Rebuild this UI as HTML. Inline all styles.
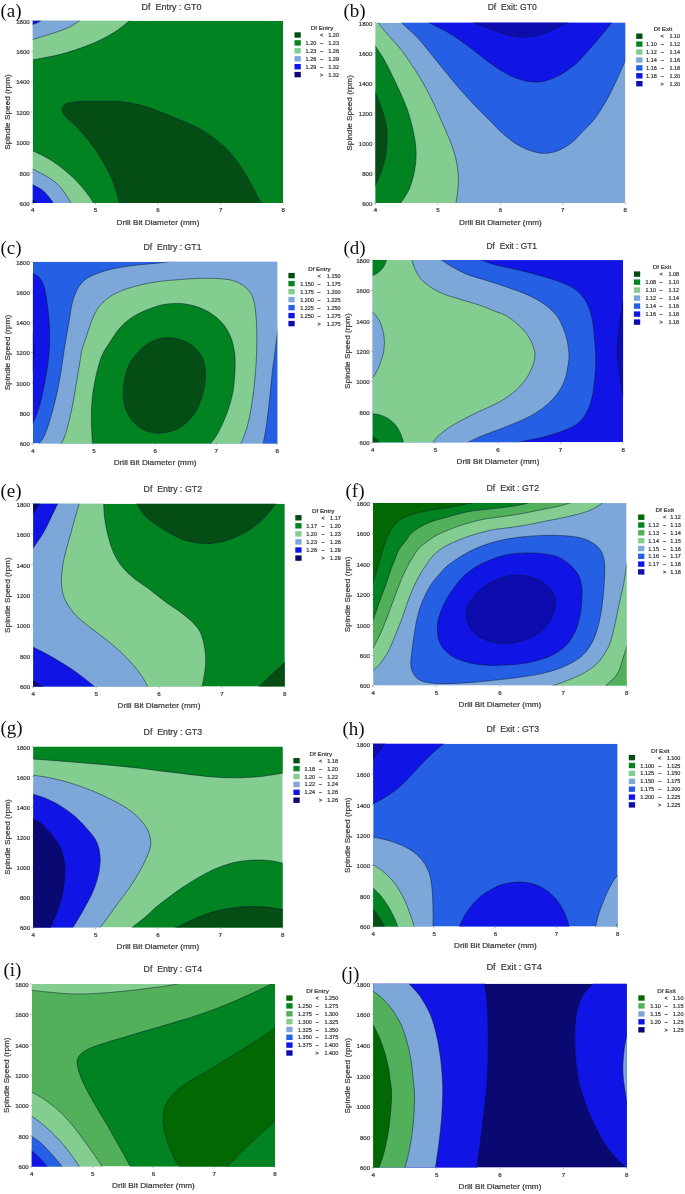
<!DOCTYPE html>
<html lang="en"><head><meta charset="utf-8"><title>Contour plots</title>
<style>html,body{margin:0;padding:0;background:#fff}svg{display:block}text{font-family:"Liberation Sans",sans-serif;fill:#3a3a3a;stroke:#3a3a3a;stroke-width:.22}.lab{font-family:"Liberation Serif",serif;fill:#111;stroke:none}.c{fill:none;stroke:#0b1630;stroke-width:.55;stroke-opacity:.9}</style></head><body>
<svg width="685" height="1194" viewBox="0 0 685 1194">
<rect width="685" height="1194" fill="#fff"/>
<clipPath id="k0"><rect x="32.8" y="20.8" width="250.4" height="182.3"/></clipPath>
<g clip-path="url(#k0)">
<rect x="32.8" y="20.8" width="250.4" height="182.3" fill="#008320"/>
<path d="M120.5 212C120.3 210.5 120.8 208.2 119.5 203.1C118.2 198 115.7 188.5 112.9 181.5C110.1 174.5 106.5 167.6 102.7 161.1C99 154.6 94.8 148.5 90.4 142.7C86 136.9 80.1 130.5 76.1 126.3C72.1 122.1 68.8 120 66.5 117.5C64.2 115 62.9 113.3 62.3 111.5C61.7 109.7 62 107.9 63 106.5C64 105.1 65.1 104 68 103.2C70.9 102.4 75.1 101.8 80.4 101.5C85.7 101.2 93.2 101.2 100 101.2C106.8 101.2 114.3 101.1 121.3 101.8C128.2 102.5 134.9 103.7 141.7 105.5C148.5 107.3 155.4 110.1 162.2 112.7C169 115.3 176.1 118.2 182.6 121C189.1 123.8 195.1 126.1 200.9 129.4C206.7 132.7 212.4 136.9 217.2 140.7C222 144.4 225.4 147.3 229.5 151.9C233.6 156.5 237.9 162.6 241.7 168.2C245.4 173.8 248.8 179.8 252 185.6C255.2 191.4 258.6 198.6 260.8 203C263 207.4 264.3 210.5 265 212Z" fill="#044d14"/>
<path class="c" d="M120.5 212C120.3 210.5 120.8 208.2 119.5 203.1C118.2 198 115.7 188.5 112.9 181.5C110.1 174.5 106.5 167.6 102.7 161.1C99 154.6 94.8 148.5 90.4 142.7C86 136.9 80.1 130.5 76.1 126.3C72.1 122.1 68.8 120 66.5 117.5C64.2 115 62.9 113.3 62.3 111.5C61.7 109.7 62 107.9 63 106.5C64 105.1 65.1 104 68 103.2C70.9 102.4 75.1 101.8 80.4 101.5C85.7 101.2 93.2 101.2 100 101.2C106.8 101.2 114.3 101.1 121.3 101.8C128.2 102.5 134.9 103.7 141.7 105.5C148.5 107.3 155.4 110.1 162.2 112.7C169 115.3 176.1 118.2 182.6 121C189.1 123.8 195.1 126.1 200.9 129.4C206.7 132.7 212.4 136.9 217.2 140.7C222 144.4 225.4 147.3 229.5 151.9C233.6 156.5 237.9 162.6 241.7 168.2C245.4 173.8 248.8 179.8 252 185.6C255.2 191.4 258.6 198.6 260.8 203C263 207.4 264.3 210.5 265 212"/>
<path d="M30.2 60.3C35.3 59.3 51 56.7 60.9 54.2C70.8 51.6 80.6 48.4 89.5 44.8C98.4 41.1 106.9 36.9 114 32.5C121.2 28.1 129.4 20.6 132.4 18.2L27.8 15.8Z" fill="#82cd8f"/>
<path class="c" d="M30.2 60.3C35.3 59.3 51 56.7 60.9 54.2C70.8 51.6 80.6 48.4 89.5 44.8C98.4 41.1 106.9 36.9 114 32.5C121.2 28.1 129.4 20.6 132.4 18.2"/>
<path d="M30.2 40.3C34 39.1 46.2 35.5 52.7 33.3C59.2 31.1 63.9 29.7 69.1 27.2C74.2 24.6 81 19.7 83.4 18.2L27.8 15.8Z" fill="#7da7d9"/>
<path class="c" d="M30.2 40.3C34 39.1 46.2 35.5 52.7 33.3C59.2 31.1 63.9 29.7 69.1 27.2C74.2 24.6 81 19.7 83.4 18.2"/>
<path d="M30.2 25.5C31.6 25 36.1 23.5 38.4 22.3C40.6 21 42.8 18.9 43.7 18.2L27.8 15.8Z" fill="#1014e4"/>
<path class="c" d="M30.2 25.5C31.6 25 36.1 23.5 38.4 22.3C40.6 21 42.8 18.9 43.7 18.2"/>
<path d="M30.2 149.4C34 151.4 45.6 156.6 52.7 161.3C59.9 166 67.4 172.2 73.1 177.6C78.9 183.1 83.7 189.2 87.5 194C91.2 198.7 94.3 204.2 95.6 206.2L27.8 208.1Z" fill="#82cd8f"/>
<path class="c" d="M30.2 149.4C34 151.4 45.6 156.6 52.7 161.3C59.9 166 67.4 172.2 73.1 177.6C78.9 183.1 83.7 189.2 87.5 194C91.2 198.7 94.3 204.2 95.6 206.2"/>
<path d="M30.2 167.8C33.3 169.4 43.5 174.3 48.6 177.6C53.7 181 56.8 183.1 60.9 187.8C65 192.6 71.1 203.2 73.1 206.2L27.8 208.1Z" fill="#7da7d9"/>
<path class="c" d="M30.2 167.8C33.3 169.4 43.5 174.3 48.6 177.6C53.7 181 56.8 183.1 60.9 187.8C65 192.6 71.1 203.2 73.1 206.2"/>
<path d="M30.2 183.3C32.6 184.8 40.3 188.1 44.5 191.9C48.8 195.7 53.7 203.9 55.6 206.2L27.8 208.1Z" fill="#1014e4"/>
<path class="c" d="M30.2 183.3C32.6 184.8 40.3 188.1 44.5 191.9C48.8 195.7 53.7 203.9 55.6 206.2"/>
<path d="M30.2 198.9C31 199.3 33.4 200.1 34.7 201.3C36 202.6 37.4 205.4 38 206.2L27.8 208.1Z" fill="#0a0872"/>
<path class="c" d="M30.2 198.9C31 199.3 33.4 200.1 34.7 201.3C36 202.6 37.4 205.4 38 206.2"/>
</g>
<path d="M32.8 203.1v1.6M95.4 203.1v1.6M158 203.1v1.6M220.6 203.1v1.6M283.2 203.1v1.6M32.8 20.8h-1.6M32.8 51.2h-1.6M32.8 81.6h-1.6M32.8 111.9h-1.6M32.8 142.3h-1.6M32.8 172.7h-1.6M32.8 203.1h-1.6" fill="none" stroke="#888" stroke-width=".6"/>
<text x="32.8" y="212.4" font-size="6.1" text-anchor="middle">4</text>
<text x="95.4" y="212.4" font-size="6.1" text-anchor="middle">5</text>
<text x="158" y="212.4" font-size="6.1" text-anchor="middle">6</text>
<text x="220.6" y="212.4" font-size="6.1" text-anchor="middle">7</text>
<text x="283.2" y="212.4" font-size="6.1" text-anchor="middle">8</text>
<text x="29.7" y="23.6" font-size="6.1" text-anchor="end">1800</text>
<text x="29.7" y="54" font-size="6.1" text-anchor="end">1600</text>
<text x="29.7" y="84.4" font-size="6.1" text-anchor="end">1400</text>
<text x="29.7" y="114.7" font-size="6.1" text-anchor="end">1200</text>
<text x="29.7" y="145.1" font-size="6.1" text-anchor="end">1000</text>
<text x="29.7" y="175.5" font-size="6.1" text-anchor="end">800</text>
<text x="29.7" y="205.9" font-size="6.1" text-anchor="end">600</text>
<text x="158" y="224.6" font-size="7.8" text-anchor="middle" textLength="82.8" lengthAdjust="spacingAndGlyphs">Drill Bit Diameter (mm)</text>
<text transform="translate(9.7 112) rotate(-90)" font-size="7.8" text-anchor="middle" textLength="75.6" lengthAdjust="spacingAndGlyphs">Spindle Speed (rpm)</text>
<text x="171.6" y="10" font-size="8.8" text-anchor="middle" textLength="60" lengthAdjust="spacingAndGlyphs" style="white-space:pre">Df  Entry : GT0</text>
<text class="lab" x="0.5" y="17" font-size="19">(a)</text>
<text x="322" y="29.9" font-size="5.8" text-anchor="middle" textLength="22.5" lengthAdjust="spacingAndGlyphs">Df Entry</text>
<rect x="294.5" y="32.3" width="6.3" height="5.4" fill="#044d14"/>
<text x="321.5" y="37" font-size="5.5" text-anchor="middle">&lt;</text>
<text x="339" y="37" font-size="5.5" text-anchor="end">1.20</text>
<rect x="294.5" y="40.2" width="6.3" height="5.4" fill="#008320"/>
<text x="321.5" y="44.9" font-size="5.5" text-anchor="middle">–</text>
<text x="316.3" y="44.9" font-size="5.5" text-anchor="end">1.20</text>
<text x="339" y="44.9" font-size="5.5" text-anchor="end">1.23</text>
<rect x="294.5" y="48.1" width="6.3" height="5.4" fill="#82cd8f"/>
<text x="321.5" y="52.8" font-size="5.5" text-anchor="middle">–</text>
<text x="316.3" y="52.8" font-size="5.5" text-anchor="end">1.23</text>
<text x="339" y="52.8" font-size="5.5" text-anchor="end">1.26</text>
<rect x="294.5" y="56.1" width="6.3" height="5.4" fill="#7da7d9"/>
<text x="321.5" y="60.8" font-size="5.5" text-anchor="middle">–</text>
<text x="316.3" y="60.8" font-size="5.5" text-anchor="end">1.26</text>
<text x="339" y="60.8" font-size="5.5" text-anchor="end">1.29</text>
<rect x="294.5" y="64" width="6.3" height="5.4" fill="#1014e4"/>
<text x="321.5" y="68.7" font-size="5.5" text-anchor="middle">–</text>
<text x="316.3" y="68.7" font-size="5.5" text-anchor="end">1.29</text>
<text x="339" y="68.7" font-size="5.5" text-anchor="end">1.32</text>
<rect x="294.5" y="71.9" width="6.3" height="5.4" fill="#0a0872"/>
<text x="321.5" y="76.6" font-size="5.5" text-anchor="middle">&gt;</text>
<text x="339" y="76.6" font-size="5.5" text-anchor="end">1.32</text>
<clipPath id="k1"><rect x="375.5" y="22.7" width="249.8" height="180.4"/></clipPath>
<g clip-path="url(#k1)">
<rect x="375.5" y="22.7" width="249.8" height="180.4" fill="#7da7d9"/>
<path d="M372 14C373 15.5 375.5 19.2 378.2 22.8C380.9 26.4 384.3 30.6 388.4 35.4C392.5 40.2 397.6 45 402.7 51.8C407.8 58.6 414.3 68.5 419.1 76.3C423.9 84.1 427.8 91.5 431.4 98.8C435 106.1 437.8 112.7 441 120C444.2 127.3 448.3 136.2 450.8 142.7C453.3 149.2 454.6 153.6 455.9 159C457.1 164.4 458 170.3 458.3 175.4C458.6 180.5 458.3 185.1 457.9 189.7C457.5 194.3 456.5 199.3 455.9 203C455.2 206.7 454.3 210.5 454 212L370.5 208.1L370.5 17.7Z" fill="#82cd8f"/>
<path class="c" d="M372 14C373 15.5 375.5 19.2 378.2 22.8C380.9 26.4 384.3 30.6 388.4 35.4C392.5 40.2 397.6 45 402.7 51.8C407.8 58.6 414.3 68.5 419.1 76.3C423.9 84.1 427.8 91.5 431.4 98.8C435 106.1 437.8 112.7 441 120C444.2 127.3 448.3 136.2 450.8 142.7C453.3 149.2 454.6 153.6 455.9 159C457.1 164.4 458 170.3 458.3 175.4C458.6 180.5 458.3 185.1 457.9 189.7C457.5 194.3 456.5 199.3 455.9 203C455.2 206.7 454.3 210.5 454 212"/>
<path d="M370 38C371 39.5 373.4 43 375.8 46.7C378.2 50.4 381.2 54.4 384.3 60C387.4 65.6 391.2 73.2 394.6 80.4C398 87.6 402.2 96.3 404.8 102.9C407.4 109.5 408.8 113.7 410.5 120C412.2 126.3 414.1 134.5 415 140.7C415.9 146.9 416.2 151.6 416 157C415.8 162.4 415.2 168 414 173.4C412.8 178.8 411.1 184.8 408.9 189.7C406.7 194.6 403.2 199.3 400.7 203C398.2 206.7 395.1 210.5 394 212L370.5 208.1Z" fill="#008320"/>
<path class="c" d="M370 38C371 39.5 373.4 43 375.8 46.7C378.2 50.4 381.2 54.4 384.3 60C387.4 65.6 391.2 73.2 394.6 80.4C398 87.6 402.2 96.3 404.8 102.9C407.4 109.5 408.8 113.7 410.5 120C412.2 126.3 414.1 134.5 415 140.7C415.9 146.9 416.2 151.6 416 157C415.8 162.4 415.2 168 414 173.4C412.8 178.8 411.1 184.8 408.9 189.7C406.7 194.6 403.2 199.3 400.7 203C398.2 206.7 395.1 210.5 394 212"/>
<path d="M373 85C373.5 86.5 374.6 90.4 375.8 93.7C377 97 378.9 101 380.3 104.9C381.7 108.8 383.2 113.2 384.3 117C385.4 120.8 386.2 124 386.6 128C387.1 131.9 387.2 135.9 387 140.7C386.8 145.5 386.3 151.9 385.4 157C384.4 162.1 382.9 166.7 381.3 171.3C379.7 175.9 377.4 181.2 375.8 184.6C374.2 188 372.6 190.8 372 192Z" fill="#044d14"/>
<path class="c" d="M373 85C373.5 86.5 374.6 90.4 375.8 93.7C377 97 378.9 101 380.3 104.9C381.7 108.8 383.2 113.2 384.3 117C385.4 120.8 386.2 124 386.6 128C387.1 131.9 387.2 135.9 387 140.7C386.8 145.5 386.3 151.9 385.4 157C384.4 162.1 382.9 166.7 381.3 171.3C379.7 175.9 377.4 181.2 375.8 184.6C374.2 188 372.6 190.8 372 192"/>
<path d="M394 14C395.3 15.5 397.5 18.6 401.7 22.8C405.9 27.1 413.1 33 419.1 39.5C425.1 46 431.4 54.5 437.5 62C443.6 69.5 449.8 77.3 455.9 84.5C462 91.7 468.7 99 474.3 104.9C479.9 110.9 485.1 115.8 489.5 120.2C493.9 124.6 496.4 127.8 500.5 131.5C504.6 135.2 509.6 139.6 514.3 142.7C519 145.8 523.8 148.1 528.6 149.9C533.4 151.7 538.1 153.1 542.9 153.3C547.7 153.5 552.4 152.7 557.2 150.9C562 149.1 567.1 146.1 571.5 142.7C575.9 139.3 580 134.3 583.8 130.4C587.6 126.5 590.8 123.9 594.5 119C598.2 114.1 602.6 107.2 606.3 100.8C610 94.4 613.4 87 616.5 80.4C619.6 73.8 622.9 65.9 625.1 61C627.3 56.1 628.8 52.7 629.5 51L630.3 17.7Z" fill="#245fe4"/>
<path class="c" d="M394 14C395.3 15.5 397.5 18.6 401.7 22.8C405.9 27.1 413.1 33 419.1 39.5C425.1 46 431.4 54.5 437.5 62C443.6 69.5 449.8 77.3 455.9 84.5C462 91.7 468.7 99 474.3 104.9C479.9 110.9 485.1 115.8 489.5 120.2C493.9 124.6 496.4 127.8 500.5 131.5C504.6 135.2 509.6 139.6 514.3 142.7C519 145.8 523.8 148.1 528.6 149.9C533.4 151.7 538.1 153.1 542.9 153.3C547.7 153.5 552.4 152.7 557.2 150.9C562 149.1 567.1 146.1 571.5 142.7C575.9 139.3 580 134.3 583.8 130.4C587.6 126.5 590.8 123.9 594.5 119C598.2 114.1 602.6 107.2 606.3 100.8C610 94.4 613.4 87 616.5 80.4C619.6 73.8 622.9 65.9 625.1 61C627.3 56.1 628.8 52.7 629.5 51"/>
<path d="M420 16C421.6 17.1 424.4 19.9 429.3 22.8C434.2 25.7 442.9 29.2 449.7 33.4C456.5 37.5 463.4 42.7 470.2 47.7C477 52.7 485.3 59.6 490.6 63.5C495.9 67.4 498.1 68.7 502 71C505.9 73.3 509.9 75.8 514.3 77.5C518.7 79.2 523.8 80.8 528.6 81.5C533.4 82.2 537.8 82.4 542.9 81.4C548 80.4 553.8 78.2 559.3 75.3C564.8 72.4 570.5 68.4 575.6 64C580.7 59.6 585.5 53.6 589.9 48.7C594.3 43.8 598.6 38.7 602.2 34.4C605.8 30.1 609.1 25.9 611.4 22.8C613.7 19.7 615.2 17.1 616 16Z" fill="#1014e4"/>
<path class="c" d="M420 16C421.6 17.1 424.4 19.9 429.3 22.8C434.2 25.7 442.9 29.2 449.7 33.4C456.5 37.5 463.4 42.7 470.2 47.7C477 52.7 485.3 59.6 490.6 63.5C495.9 67.4 498.1 68.7 502 71C505.9 73.3 509.9 75.8 514.3 77.5C518.7 79.2 523.8 80.8 528.6 81.5C533.4 82.2 537.8 82.4 542.9 81.4C548 80.4 553.8 78.2 559.3 75.3C564.8 72.4 570.5 68.4 575.6 64C580.7 59.6 585.5 53.6 589.9 48.7C594.3 43.8 598.6 38.7 602.2 34.4C605.8 30.1 609.1 25.9 611.4 22.8C613.7 19.7 615.2 17.1 616 16"/>
<path d="M462 16C464.1 17.1 469.5 20.6 474.3 22.8C479.1 25 486.3 27.7 490.6 29.3C494.9 30.9 496.7 31.4 500 32.4C503.3 33.4 506.4 34.6 510.2 35.4C514 36.2 518.1 37.1 522.5 37.1C526.9 37.1 532 36.5 536.8 35.4C541.6 34.3 546 32.4 551.1 30.3C556.2 28.2 562.9 25 567.4 22.8C571.9 20.6 576.2 18 578 17Z" fill="#0e0cac"/>
<path class="c" d="M462 16C464.1 17.1 469.5 20.6 474.3 22.8C479.1 25 486.3 27.7 490.6 29.3C494.9 30.9 496.7 31.4 500 32.4C503.3 33.4 506.4 34.6 510.2 35.4C514 36.2 518.1 37.1 522.5 37.1C526.9 37.1 532 36.5 536.8 35.4C541.6 34.3 546 32.4 551.1 30.3C556.2 28.2 562.9 25 567.4 22.8C571.9 20.6 576.2 18 578 17"/>
</g>
<path d="M375.5 203.1v1.6M437.9 203.1v1.6M500.4 203.1v1.6M562.8 203.1v1.6M625.3 203.1v1.6M375.5 22.7h-1.6M375.5 52.8h-1.6M375.5 82.8h-1.6M375.5 112.9h-1.6M375.5 143h-1.6M375.5 173h-1.6M375.5 203.1h-1.6" fill="none" stroke="#888" stroke-width=".6"/>
<text x="375.5" y="212.4" font-size="6.1" text-anchor="middle">4</text>
<text x="437.9" y="212.4" font-size="6.1" text-anchor="middle">5</text>
<text x="500.4" y="212.4" font-size="6.1" text-anchor="middle">6</text>
<text x="562.8" y="212.4" font-size="6.1" text-anchor="middle">7</text>
<text x="625.3" y="212.4" font-size="6.1" text-anchor="middle">8</text>
<text x="372.4" y="25.5" font-size="6.1" text-anchor="end">1800</text>
<text x="372.4" y="55.6" font-size="6.1" text-anchor="end">1600</text>
<text x="372.4" y="85.6" font-size="6.1" text-anchor="end">1400</text>
<text x="372.4" y="115.7" font-size="6.1" text-anchor="end">1200</text>
<text x="372.4" y="145.8" font-size="6.1" text-anchor="end">1000</text>
<text x="372.4" y="175.8" font-size="6.1" text-anchor="end">800</text>
<text x="372.4" y="205.9" font-size="6.1" text-anchor="end">600</text>
<text x="500.4" y="224.6" font-size="7.8" text-anchor="middle" textLength="82.8" lengthAdjust="spacingAndGlyphs">Drill Bit Diameter (mm)</text>
<text transform="translate(352.4 112.9) rotate(-90)" font-size="7.8" text-anchor="middle" textLength="75.6" lengthAdjust="spacingAndGlyphs">Spindle Speed (rpm)</text>
<text x="512.2" y="10" font-size="8.8" text-anchor="middle" textLength="49" lengthAdjust="spacingAndGlyphs" style="white-space:pre">Df  Exit: GT0</text>
<text class="lab" x="343.5" y="17" font-size="19">(b)</text>
<text x="663" y="31.1" font-size="5.8" text-anchor="middle" textLength="18.5" lengthAdjust="spacingAndGlyphs">Df Exit</text>
<rect x="636.2" y="33.5" width="6.3" height="5.4" fill="#044d14"/>
<text x="662.2" y="38.2" font-size="5.5" text-anchor="middle">&lt;</text>
<text x="680.1" y="38.2" font-size="5.5" text-anchor="end">1.10</text>
<rect x="636.2" y="41.4" width="6.3" height="5.4" fill="#008320"/>
<text x="662.2" y="46.1" font-size="5.5" text-anchor="middle">–</text>
<text x="656.8" y="46.1" font-size="5.5" text-anchor="end">1.10</text>
<text x="680.1" y="46.1" font-size="5.5" text-anchor="end">1.12</text>
<rect x="636.2" y="49.3" width="6.3" height="5.4" fill="#82cd8f"/>
<text x="662.2" y="54" font-size="5.5" text-anchor="middle">–</text>
<text x="656.8" y="54" font-size="5.5" text-anchor="end">1.12</text>
<text x="680.1" y="54" font-size="5.5" text-anchor="end">1.14</text>
<rect x="636.2" y="57.3" width="6.3" height="5.4" fill="#7da7d9"/>
<text x="662.2" y="62" font-size="5.5" text-anchor="middle">–</text>
<text x="656.8" y="62" font-size="5.5" text-anchor="end">1.14</text>
<text x="680.1" y="62" font-size="5.5" text-anchor="end">1.16</text>
<rect x="636.2" y="65.2" width="6.3" height="5.4" fill="#245fe4"/>
<text x="662.2" y="69.9" font-size="5.5" text-anchor="middle">–</text>
<text x="656.8" y="69.9" font-size="5.5" text-anchor="end">1.16</text>
<text x="680.1" y="69.9" font-size="5.5" text-anchor="end">1.18</text>
<rect x="636.2" y="73.1" width="6.3" height="5.4" fill="#1014e4"/>
<text x="662.2" y="77.8" font-size="5.5" text-anchor="middle">–</text>
<text x="656.8" y="77.8" font-size="5.5" text-anchor="end">1.18</text>
<text x="680.1" y="77.8" font-size="5.5" text-anchor="end">1.20</text>
<rect x="636.2" y="81" width="6.3" height="5.4" fill="#0e0cac"/>
<text x="662.2" y="85.7" font-size="5.5" text-anchor="middle">&gt;</text>
<text x="680.1" y="85.7" font-size="5.5" text-anchor="end">1.20</text>
<clipPath id="k2"><rect x="32.9" y="261.7" width="244.4" height="181.7"/></clipPath>
<g clip-path="url(#k2)">
<rect x="32.9" y="261.7" width="244.4" height="181.7" fill="#245fe4"/>
<path d="M30 271.5C30.5 271.8 31.2 272.4 32.8 273.4C34.3 274.4 37.4 275.1 39.3 277.5C41.2 279.9 43 282.9 44.4 287.7C45.8 292.5 46.6 299.6 47.5 306.1C48.4 312.6 49.2 319.7 49.5 326.5C49.8 333.3 49.8 340.4 49.5 347C49.2 353.6 48.4 360 47.5 366.3C46.6 372.6 45.6 378.6 44.4 384.7C43.2 390.8 41.7 398 40.3 403.1C38.9 408.2 37.5 412 36.2 415.4C35 418.8 33.8 421.3 32.8 423.6C31.8 425.9 30.5 428.1 30 429Z" fill="#1014e4"/>
<path class="c" d="M30 271.5C30.5 271.8 31.2 272.4 32.8 273.4C34.3 274.4 37.4 275.1 39.3 277.5C41.2 279.9 43 282.9 44.4 287.7C45.8 292.5 46.6 299.6 47.5 306.1C48.4 312.6 49.2 319.7 49.5 326.5C49.8 333.3 49.8 340.4 49.5 347C49.2 353.6 48.4 360 47.5 366.3C46.6 372.6 45.6 378.6 44.4 384.7C43.2 390.8 41.7 398 40.3 403.1C38.9 408.2 37.5 412 36.2 415.4C35 418.8 33.8 421.3 32.8 423.6C31.8 425.9 30.5 428.1 30 429"/>
<path d="M32 332C32.4 335.3 34.4 345 34.4 352C34.4 359 32.4 370.3 32 374Z" fill="#0e0cac"/>
<path class="c" d="M32 332C32.4 335.3 34.4 345 34.4 352C34.4 359 32.4 370.3 32 374"/>
<path d="M35 449C35.7 448.1 37.7 445.6 39.3 443.4C40.9 441.2 42.7 439.4 44.4 435.8C46.1 432.2 47.8 426.9 49.5 421.5C51.2 416.1 53.1 409.2 54.6 403.1C56.1 397 57.5 390.8 58.7 384.7C59.9 378.6 60.8 372.4 61.8 366.3C62.8 360.2 63.7 353.1 64.5 348C65.3 342.9 65.8 340.3 66.5 336C67.2 331.7 68 327.7 68.9 322.4C69.8 317.1 70.8 309.1 72 304C73.2 298.9 74.6 295.2 76.1 291.8C77.6 288.4 79.2 286 81.2 283.6C83.2 281.2 85.5 279.3 88.4 277.5C91.3 275.7 94.9 274.4 98.6 273C102.3 271.6 106.4 270.4 110.8 269.3C115.2 268.2 120.3 267.4 125.1 266.6C129.9 265.9 134.4 265.3 139.4 264.8C144.4 264.3 150 263.9 155 263.4C160 262.9 165.1 262.2 169.3 261.7C173.5 261.2 178.2 260.6 180 260.4L282.3 256.7L282.3 448.4Z" fill="#7da7d9"/>
<path class="c" d="M35 449C35.7 448.1 37.7 445.6 39.3 443.4C40.9 441.2 42.7 439.4 44.4 435.8C46.1 432.2 47.8 426.9 49.5 421.5C51.2 416.1 53.1 409.2 54.6 403.1C56.1 397 57.5 390.8 58.7 384.7C59.9 378.6 60.8 372.4 61.8 366.3C62.8 360.2 63.7 353.1 64.5 348C65.3 342.9 65.8 340.3 66.5 336C67.2 331.7 68 327.7 68.9 322.4C69.8 317.1 70.8 309.1 72 304C73.2 298.9 74.6 295.2 76.1 291.8C77.6 288.4 79.2 286 81.2 283.6C83.2 281.2 85.5 279.3 88.4 277.5C91.3 275.7 94.9 274.4 98.6 273C102.3 271.6 106.4 270.4 110.8 269.3C115.2 268.2 120.3 267.4 125.1 266.6C129.9 265.9 134.4 265.3 139.4 264.8C144.4 264.3 150 263.9 155 263.4C160 262.9 165.1 262.2 169.3 261.7C173.5 261.2 178.2 260.6 180 260.4"/>
<path d="M279 322C278.7 324.1 277.8 330.5 277.2 334.7C276.6 338.9 276.1 342.8 275.6 347C275.1 351.2 274.5 356.1 274 360C273.5 363.9 273.3 363.5 272.5 370.4C271.7 377.2 270.4 391.9 269.4 401.1C268.4 410.3 267.4 418.6 266.4 425.6C265.4 432.7 264 439 263.3 443.4C262.6 447.8 262.2 450.6 262 452L282.3 448.4Z" fill="#245fe4"/>
<path class="c" d="M279 322C278.7 324.1 277.8 330.5 277.2 334.7C276.6 338.9 276.1 342.8 275.6 347C275.1 351.2 274.5 356.1 274 360C273.5 363.9 273.3 363.5 272.5 370.4C271.7 377.2 270.4 391.9 269.4 401.1C268.4 410.3 267.4 418.6 266.4 425.6C265.4 432.7 264 439 263.3 443.4C262.6 447.8 262.2 450.6 262 452"/>
<path d="M58 449C58.6 448.1 60.2 445.6 61.4 443.4C62.5 441.2 63.7 439.4 64.9 435.8C66.2 432.2 67.6 426.9 68.9 421.5C70.2 416.1 71.8 409.2 73 403.1C74.2 397 75.1 390.8 76.1 384.7C77.1 378.6 78.3 371.8 79.2 366.3C80.1 360.9 80.8 355.7 81.5 352C82.2 348.3 82.9 346.5 83.7 344C84.5 341.5 85.2 340.1 86.3 336.8C87.4 333.6 89 328.2 90.4 324.5C91.8 320.8 93 317.4 94.5 314.3C96 311.2 97.5 308.7 99.6 306.1C101.6 303.5 104.1 301 106.8 298.9C109.5 296.8 112.5 294.9 115.9 293.2C119.3 291.5 123.3 290 127.2 288.7C131.1 287.4 135.3 286.2 139.4 285.2C143.5 284.2 147.4 283.3 151.7 282.6C156 281.9 161.1 281.2 165 280.8C168.9 280.4 170.2 280.3 175.4 279.9C180.6 279.5 189.1 278.7 195.9 278.5C202.7 278.3 210.2 278.2 216.3 278.5C222.4 278.8 227.9 279.1 232.7 280.5C237.5 281.9 241.7 284.1 244.9 286.7C248.1 289.3 250.4 292.3 252.1 295.9C253.8 299.5 254.3 303.3 255.1 308.1C255.8 312.9 256.3 319.1 256.6 324.5C256.9 329.9 256.8 335.7 256.8 340.8C256.8 345.9 256.7 350.1 256.5 355C256.3 359.9 256.2 363.7 255.6 370.4C255 377.1 254.2 386.8 253.1 395C252 403.2 250.4 413 249 419.5C247.6 426 246.3 429.8 244.9 433.8C243.5 437.8 242 440.7 240.8 443.4C239.7 446.1 238.5 448.9 238 450Z" fill="#82cd8f"/>
<path class="c" d="M58 449C58.6 448.1 60.2 445.6 61.4 443.4C62.5 441.2 63.7 439.4 64.9 435.8C66.2 432.2 67.6 426.9 68.9 421.5C70.2 416.1 71.8 409.2 73 403.1C74.2 397 75.1 390.8 76.1 384.7C77.1 378.6 78.3 371.8 79.2 366.3C80.1 360.9 80.8 355.7 81.5 352C82.2 348.3 82.9 346.5 83.7 344C84.5 341.5 85.2 340.1 86.3 336.8C87.4 333.6 89 328.2 90.4 324.5C91.8 320.8 93 317.4 94.5 314.3C96 311.2 97.5 308.7 99.6 306.1C101.6 303.5 104.1 301 106.8 298.9C109.5 296.8 112.5 294.9 115.9 293.2C119.3 291.5 123.3 290 127.2 288.7C131.1 287.4 135.3 286.2 139.4 285.2C143.5 284.2 147.4 283.3 151.7 282.6C156 281.9 161.1 281.2 165 280.8C168.9 280.4 170.2 280.3 175.4 279.9C180.6 279.5 189.1 278.7 195.9 278.5C202.7 278.3 210.2 278.2 216.3 278.5C222.4 278.8 227.9 279.1 232.7 280.5C237.5 281.9 241.7 284.1 244.9 286.7C248.1 289.3 250.4 292.3 252.1 295.9C253.8 299.5 254.3 303.3 255.1 308.1C255.8 312.9 256.3 319.1 256.6 324.5C256.9 329.9 256.8 335.7 256.8 340.8C256.8 345.9 256.7 350.1 256.5 355C256.3 359.9 256.2 363.7 255.6 370.4C255 377.1 254.2 386.8 253.1 395C252 403.2 250.4 413 249 419.5C247.6 426 246.3 429.8 244.9 433.8C243.5 437.8 242 440.7 240.8 443.4C239.7 446.1 238.5 448.9 238 450"/>
<path d="M92.6 450C92.6 448.9 92.5 446.4 92.4 443.4C92.3 440.4 92 436.5 91.8 431.8C91.6 427.1 91.3 421.2 91.4 415.4C91.5 409.6 91.7 403.1 92.4 397C93.1 390.9 94.3 384.4 95.5 378.6C96.7 372.8 98.2 366.7 99.6 362.3C101 357.9 101.8 355.6 103.7 352C105.6 348.4 108.6 344.2 110.8 340.8C113 337.4 115 334.3 117 331.6C119 328.9 120.7 326.8 123.1 324.5C125.5 322.2 128.6 319.8 131.3 317.9C134 316 136 314.8 139.4 313.2C142.8 311.6 147.4 309.6 151.7 308.1C156 306.6 160 305.1 165 304.3C170 303.6 176.1 303.1 181.6 303.6C187.1 304.1 192.8 305.3 197.9 307.1C203 308.9 207.9 311.4 212.2 314.3C216.5 317.2 220.4 320.8 223.5 324.5C226.6 328.2 228.9 332.7 230.6 336.8C232.3 340.9 233.1 344.8 233.9 349C234.7 353.2 235.2 355.7 235.2 362C235.2 368.3 234.6 379.6 233.7 386.8C232.8 394 231.3 399.4 229.6 405.2C227.9 411 225.7 416.4 223.5 421.5C221.3 426.6 218.5 432.2 216.3 435.8C214.2 439.4 212.5 440.9 210.6 443.4C208.7 445.9 205.9 449.7 205 451Z" fill="#008320"/>
<path class="c" d="M92.6 450C92.6 448.9 92.5 446.4 92.4 443.4C92.3 440.4 92 436.5 91.8 431.8C91.6 427.1 91.3 421.2 91.4 415.4C91.5 409.6 91.7 403.1 92.4 397C93.1 390.9 94.3 384.4 95.5 378.6C96.7 372.8 98.2 366.7 99.6 362.3C101 357.9 101.8 355.6 103.7 352C105.6 348.4 108.6 344.2 110.8 340.8C113 337.4 115 334.3 117 331.6C119 328.9 120.7 326.8 123.1 324.5C125.5 322.2 128.6 319.8 131.3 317.9C134 316 136 314.8 139.4 313.2C142.8 311.6 147.4 309.6 151.7 308.1C156 306.6 160 305.1 165 304.3C170 303.6 176.1 303.1 181.6 303.6C187.1 304.1 192.8 305.3 197.9 307.1C203 308.9 207.9 311.4 212.2 314.3C216.5 317.2 220.4 320.8 223.5 324.5C226.6 328.2 228.9 332.7 230.6 336.8C232.3 340.9 233.1 344.8 233.9 349C234.7 353.2 235.2 355.7 235.2 362C235.2 368.3 234.6 379.6 233.7 386.8C232.8 394 231.3 399.4 229.6 405.2C227.9 411 225.7 416.4 223.5 421.5C221.3 426.6 218.5 432.2 216.3 435.8C214.2 439.4 212.5 440.9 210.6 443.4C208.7 445.9 205.9 449.7 205 451"/>
<path d="M165 337.8C168.6 337.6 173.4 337.8 177.5 338.8C181.6 339.8 186.3 341.8 189.7 343.9C193.1 345.9 195.6 348.2 197.9 351.1C200.2 354 202.2 356.8 203.5 361C204.8 365.2 205.6 371.3 205.5 376.6C205.4 381.9 204.4 387.4 203 392.9C201.6 398.3 199.5 404.5 196.9 409.3C194.3 414.1 191.3 418.1 187.7 421.5C184.1 424.9 179.5 427.8 175.4 429.7C171.3 431.6 166.8 432.3 163.2 432.8C159.6 433.3 157.4 433.5 153.8 432.8C150.2 432.1 145.2 430.9 141.5 428.7C137.8 426.5 134 423.1 131.3 419.5C128.6 415.9 126.5 411.6 125.1 407.2C123.7 402.8 123.1 398 123.1 392.9C123.1 387.8 123.9 381.7 125.1 376.6C126.3 371.5 128.2 366.2 130.3 362.3C132.4 358.4 135.2 355.7 137.4 353.1C139.6 350.6 141.4 348.7 143.5 347C145.6 345.3 147.6 344.1 149.7 342.9C151.8 341.7 153.2 340.6 155.8 339.8C158.4 339 161.4 338 165 337.8Z" fill="#044d14"/>
<path class="c" d="M165 337.8C168.6 337.6 173.4 337.8 177.5 338.8C181.6 339.8 186.3 341.8 189.7 343.9C193.1 345.9 195.6 348.2 197.9 351.1C200.2 354 202.2 356.8 203.5 361C204.8 365.2 205.6 371.3 205.5 376.6C205.4 381.9 204.4 387.4 203 392.9C201.6 398.3 199.5 404.5 196.9 409.3C194.3 414.1 191.3 418.1 187.7 421.5C184.1 424.9 179.5 427.8 175.4 429.7C171.3 431.6 166.8 432.3 163.2 432.8C159.6 433.3 157.4 433.5 153.8 432.8C150.2 432.1 145.2 430.9 141.5 428.7C137.8 426.5 134 423.1 131.3 419.5C128.6 415.9 126.5 411.6 125.1 407.2C123.7 402.8 123.1 398 123.1 392.9C123.1 387.8 123.9 381.7 125.1 376.6C126.3 371.5 128.2 366.2 130.3 362.3C132.4 358.4 135.2 355.7 137.4 353.1C139.6 350.6 141.4 348.7 143.5 347C145.6 345.3 147.6 344.1 149.7 342.9C151.8 341.7 153.2 340.6 155.8 339.8C158.4 339 161.4 338 165 337.8Z"/>
</g>
<path d="M32.9 443.4v1.6M94 443.4v1.6M155.1 443.4v1.6M216.2 443.4v1.6M277.3 443.4v1.6M32.9 261.7h-1.6M32.9 292h-1.6M32.9 322.3h-1.6M32.9 352.5h-1.6M32.9 382.8h-1.6M32.9 413.1h-1.6M32.9 443.4h-1.6" fill="none" stroke="#888" stroke-width=".6"/>
<text x="32.9" y="452.7" font-size="6.1" text-anchor="middle">4</text>
<text x="94" y="452.7" font-size="6.1" text-anchor="middle">5</text>
<text x="155.1" y="452.7" font-size="6.1" text-anchor="middle">6</text>
<text x="216.2" y="452.7" font-size="6.1" text-anchor="middle">7</text>
<text x="277.3" y="452.7" font-size="6.1" text-anchor="middle">8</text>
<text x="29.8" y="264.5" font-size="6.1" text-anchor="end">1800</text>
<text x="29.8" y="294.8" font-size="6.1" text-anchor="end">1600</text>
<text x="29.8" y="325.1" font-size="6.1" text-anchor="end">1400</text>
<text x="29.8" y="355.3" font-size="6.1" text-anchor="end">1200</text>
<text x="29.8" y="385.6" font-size="6.1" text-anchor="end">1000</text>
<text x="29.8" y="415.9" font-size="6.1" text-anchor="end">800</text>
<text x="29.8" y="446.2" font-size="6.1" text-anchor="end">600</text>
<text x="155.1" y="464.9" font-size="7.8" text-anchor="middle" textLength="82.8" lengthAdjust="spacingAndGlyphs">Drill Bit Diameter (mm)</text>
<text transform="translate(9.8 352.5) rotate(-90)" font-size="7.8" text-anchor="middle" textLength="75.6" lengthAdjust="spacingAndGlyphs">Spindle Speed (rpm)</text>
<text x="172.5" y="249.6" font-size="8.8" text-anchor="middle" textLength="58" lengthAdjust="spacingAndGlyphs" style="white-space:pre">Df  Entry : GT1</text>
<text class="lab" x="0.5" y="254" font-size="19">(c)</text>
<text x="319.4" y="270.5" font-size="5.8" text-anchor="middle" textLength="22.5" lengthAdjust="spacingAndGlyphs">Df Entry</text>
<rect x="288.4" y="272.9" width="6.3" height="5.4" fill="#044d14"/>
<text x="319.1" y="277.6" font-size="5.5" text-anchor="middle">&lt;</text>
<text x="340.6" y="277.6" font-size="5.5" text-anchor="end">1.150</text>
<rect x="288.4" y="280.9" width="6.3" height="5.4" fill="#008320"/>
<text x="319.1" y="285.6" font-size="5.5" text-anchor="middle">–</text>
<text x="313.9" y="285.6" font-size="5.5" text-anchor="end">1.150</text>
<text x="340.6" y="285.6" font-size="5.5" text-anchor="end">1.175</text>
<rect x="288.4" y="288.9" width="6.3" height="5.4" fill="#82cd8f"/>
<text x="319.1" y="293.6" font-size="5.5" text-anchor="middle">–</text>
<text x="313.9" y="293.6" font-size="5.5" text-anchor="end">1.175</text>
<text x="340.6" y="293.6" font-size="5.5" text-anchor="end">1.200</text>
<rect x="288.4" y="296.9" width="6.3" height="5.4" fill="#7da7d9"/>
<text x="319.1" y="301.6" font-size="5.5" text-anchor="middle">–</text>
<text x="313.9" y="301.6" font-size="5.5" text-anchor="end">1.200</text>
<text x="340.6" y="301.6" font-size="5.5" text-anchor="end">1.225</text>
<rect x="288.4" y="304.9" width="6.3" height="5.4" fill="#245fe4"/>
<text x="319.1" y="309.6" font-size="5.5" text-anchor="middle">–</text>
<text x="313.9" y="309.6" font-size="5.5" text-anchor="end">1.225</text>
<text x="340.6" y="309.6" font-size="5.5" text-anchor="end">1.250</text>
<rect x="288.4" y="312.9" width="6.3" height="5.4" fill="#1014e4"/>
<text x="319.1" y="317.6" font-size="5.5" text-anchor="middle">–</text>
<text x="313.9" y="317.6" font-size="5.5" text-anchor="end">1.250</text>
<text x="340.6" y="317.6" font-size="5.5" text-anchor="end">1.275</text>
<rect x="288.4" y="320.9" width="6.3" height="5.4" fill="#0e0cac"/>
<text x="319.1" y="325.6" font-size="5.5" text-anchor="middle">&gt;</text>
<text x="340.6" y="325.6" font-size="5.5" text-anchor="end">1.275</text>
<clipPath id="k3"><rect x="372.8" y="260.1" width="250.3" height="182.1"/></clipPath>
<g clip-path="url(#k3)">
<rect x="372.8" y="260.1" width="250.3" height="182.1" fill="#1014e4"/>
<path d="M625 298C624.6 299 623.6 299.9 622.7 304C621.8 308.1 620.6 316.3 619.7 322.4C618.9 328.5 618 335.4 617.6 340.8C617.2 346.2 617 350.8 617.2 355C617.4 359.2 618 361.7 618.6 366.3C619.2 370.9 620 377.9 620.7 382.7C621.5 387.5 622.4 391.9 623.1 395C623.8 398.1 624.7 400 625 401Z" fill="#0e0cac"/>
<path class="c" d="M625 298C624.6 299 623.6 299.9 622.7 304C621.8 308.1 620.6 316.3 619.7 322.4C618.9 328.5 618 335.4 617.6 340.8C617.2 346.2 617 350.8 617.2 355C617.4 359.2 618 361.7 618.6 366.3C619.2 370.9 620 377.9 620.7 382.7C621.5 387.5 622.4 391.9 623.1 395C623.8 398.1 624.7 400 625 401"/>
<path d="M470 256C471.9 256.7 477.7 258.7 481.5 260.1C485.3 261.5 489.1 263.1 493 264.2C496.9 265.3 501.3 266.1 505 267C508.7 267.9 510.2 268.1 515.4 269.3C520.5 270.5 529.1 272.5 535.9 274.4C542.7 276.3 550.2 278.3 556.3 280.5C562.4 282.7 568.3 285 572.7 287.7C577.1 290.4 580.2 293.5 582.9 296.9C585.6 300.3 587.4 303.9 589 308.1C590.6 312.4 591.8 316.9 592.7 322.4C593.7 327.8 594.2 335.4 594.7 340.8C595.2 346.2 595.5 350.8 595.6 355C595.8 359.2 595.9 361.4 595.6 366.3C595.4 371.2 594.9 378.9 594.1 384.7C593.4 390.5 592.6 396 591.1 401.1C589.6 406.2 587.6 411.3 584.9 415.4C582.2 419.5 578.8 422.9 574.7 425.6C570.6 428.3 565.5 429.9 560.4 431.8C555.3 433.7 549.1 435.5 544 436.9C538.9 438.2 533.6 439 529.7 439.9C525.8 440.8 523.8 441.1 520.5 442C517.2 442.9 511.8 444.5 510 445L367.8 447.2L367.8 255.1Z" fill="#245fe4"/>
<path class="c" d="M470 256C471.9 256.7 477.7 258.7 481.5 260.1C485.3 261.5 489.1 263.1 493 264.2C496.9 265.3 501.3 266.1 505 267C508.7 267.9 510.2 268.1 515.4 269.3C520.5 270.5 529.1 272.5 535.9 274.4C542.7 276.3 550.2 278.3 556.3 280.5C562.4 282.7 568.3 285 572.7 287.7C577.1 290.4 580.2 293.5 582.9 296.9C585.6 300.3 587.4 303.9 589 308.1C590.6 312.4 591.8 316.9 592.7 322.4C593.7 327.8 594.2 335.4 594.7 340.8C595.2 346.2 595.5 350.8 595.6 355C595.8 359.2 595.9 361.4 595.6 366.3C595.4 371.2 594.9 378.9 594.1 384.7C593.4 390.5 592.6 396 591.1 401.1C589.6 406.2 587.6 411.3 584.9 415.4C582.2 419.5 578.8 422.9 574.7 425.6C570.6 428.3 565.5 429.9 560.4 431.8C555.3 433.7 549.1 435.5 544 436.9C538.9 438.2 533.6 439 529.7 439.9C525.8 440.8 523.8 441.1 520.5 442C517.2 442.9 511.8 444.5 510 445"/>
<path d="M436 256.5C436.9 257.1 438.8 258.3 441.6 260.1C444.4 261.9 448.6 264.9 452.9 267.3C457.2 269.7 462.1 272.4 467.2 274.4C472.3 276.4 478.5 277.9 483.5 279.5C488.5 281.1 492.4 282.3 497 283.8C501.6 285.3 506.2 286.9 511.3 288.7C516.4 290.5 522.2 292.3 527.7 294.9C533.2 297.4 539.2 300.6 544 304C548.8 307.4 553 311.2 556.3 315.3C559.5 319.4 561.6 324 563.5 328.6C565.4 333.2 566.7 338.5 567.6 342.9C568.5 347.3 568.9 351.4 569 355C569.1 358.6 569 360 568.2 364.3C567.5 368.6 566.5 375.6 564.5 380.7C562.5 385.8 559.7 390.6 556.3 395C552.9 399.4 548.8 403.5 544 407.2C539.2 410.9 533.2 414.5 527.7 417.4C522.2 420.3 516.8 422.4 511.3 424.6C505.9 426.9 500.3 428.8 495 430.9C489.7 432.9 483.9 435 479.4 436.9C474.9 438.8 471.1 440.9 468.2 442.4C465.3 443.9 463 445.4 462 446L367.8 447.2L367.8 255.1Z" fill="#7da7d9"/>
<path class="c" d="M436 256.5C436.9 257.1 438.8 258.3 441.6 260.1C444.4 261.9 448.6 264.9 452.9 267.3C457.2 269.7 462.1 272.4 467.2 274.4C472.3 276.4 478.5 277.9 483.5 279.5C488.5 281.1 492.4 282.3 497 283.8C501.6 285.3 506.2 286.9 511.3 288.7C516.4 290.5 522.2 292.3 527.7 294.9C533.2 297.4 539.2 300.6 544 304C548.8 307.4 553 311.2 556.3 315.3C559.5 319.4 561.6 324 563.5 328.6C565.4 333.2 566.7 338.5 567.6 342.9C568.5 347.3 568.9 351.4 569 355C569.1 358.6 569 360 568.2 364.3C567.5 368.6 566.5 375.6 564.5 380.7C562.5 385.8 559.7 390.6 556.3 395C552.9 399.4 548.8 403.5 544 407.2C539.2 410.9 533.2 414.5 527.7 417.4C522.2 420.3 516.8 422.4 511.3 424.6C505.9 426.9 500.3 428.8 495 430.9C489.7 432.9 483.9 435 479.4 436.9C474.9 438.8 471.1 440.9 468.2 442.4C465.3 443.9 463 445.4 462 446"/>
<path d="M411 256C411.2 256.7 411.3 257.9 412 260.1C412.7 262.3 413.4 265.9 415.1 269.3C416.8 272.7 418.3 276.8 422.2 280.5C426.1 284.2 432.5 288.7 438.6 291.8C444.7 294.9 452.2 296.7 459 298.9C465.8 301.1 473.4 303.1 479.4 305.1C485.4 307.2 490.7 309.5 495 311.2C499.3 312.9 501.8 313.4 505.2 315.3C508.6 317.2 512 319.5 515.4 322.4C518.8 325.3 523 329.3 525.7 332.7C528.4 336.1 530.3 339.5 531.8 342.9C533.3 346.3 534.6 349.8 534.9 353C535.2 356.2 534.8 358.7 533.8 362.3C532.8 365.9 531.1 370.4 528.7 374.5C526.3 378.6 523.1 383.1 519.5 386.8C515.9 390.6 511.4 394.1 507.3 397C503.2 399.9 499.6 401.8 495 404.2C490.4 406.6 484.7 408.8 479.4 411.3C474.1 413.9 468.2 416.8 463.1 419.5C458 422.2 452.9 425 448.8 427.7C444.7 430.4 441.2 433.4 438.6 435.8C436 438.2 434.3 440.6 432.9 442.4C431.5 444.2 430.5 445.8 430 446.5L367.8 447.2L367.8 255.1Z" fill="#82cd8f"/>
<path class="c" d="M411 256C411.2 256.7 411.3 257.9 412 260.1C412.7 262.3 413.4 265.9 415.1 269.3C416.8 272.7 418.3 276.8 422.2 280.5C426.1 284.2 432.5 288.7 438.6 291.8C444.7 294.9 452.2 296.7 459 298.9C465.8 301.1 473.4 303.1 479.4 305.1C485.4 307.2 490.7 309.5 495 311.2C499.3 312.9 501.8 313.4 505.2 315.3C508.6 317.2 512 319.5 515.4 322.4C518.8 325.3 523 329.3 525.7 332.7C528.4 336.1 530.3 339.5 531.8 342.9C533.3 346.3 534.6 349.8 534.9 353C535.2 356.2 534.8 358.7 533.8 362.3C532.8 365.9 531.1 370.4 528.7 374.5C526.3 378.6 523.1 383.1 519.5 386.8C515.9 390.6 511.4 394.1 507.3 397C503.2 399.9 499.6 401.8 495 404.2C490.4 406.6 484.7 408.8 479.4 411.3C474.1 413.9 468.2 416.8 463.1 419.5C458 422.2 452.9 425 448.8 427.7C444.7 430.4 441.2 433.4 438.6 435.8C436 438.2 434.3 440.6 432.9 442.4C431.5 444.2 430.5 445.8 430 446.5"/>
<path d="M370 309C370.5 309.5 371.2 310.3 372.8 312.2C374.4 314.1 377.5 317 379.3 320.4C381.1 323.8 382.5 328.9 383.4 332.7C384.2 336.4 384.4 339.7 384.4 342.9C384.4 346.1 384 349.1 383.5 352C383 354.9 382.3 357.1 381.3 360.2C380.3 363.3 378.7 367.5 377.3 370.4C375.9 373.3 374 375.8 372.8 377.6C371.6 379.5 370.5 380.9 370 381.5Z" fill="#7da7d9"/>
<path class="c" d="M370 309C370.5 309.5 371.2 310.3 372.8 312.2C374.4 314.1 377.5 317 379.3 320.4C381.1 323.8 382.5 328.9 383.4 332.7C384.2 336.4 384.4 339.7 384.4 342.9C384.4 346.1 384 349.1 383.5 352C383 354.9 382.3 357.1 381.3 360.2C380.3 363.3 378.7 367.5 377.3 370.4C375.9 373.3 374 375.8 372.8 377.6C371.6 379.5 370.5 380.9 370 381.5"/>
<path d="M388 256C387.8 256.7 387.3 258.2 386.5 260.1C385.7 262 384.8 265.2 383.4 267.3C382 269.4 380.1 271 378.3 272.4C376.5 273.8 374.4 274.6 372.8 275.4C371.2 276.2 369.6 276.7 369 277L367.8 255.1Z" fill="#008320"/>
<path class="c" d="M388 256C387.8 256.7 387.3 258.2 386.5 260.1C385.7 262 384.8 265.2 383.4 267.3C382 269.4 380.1 271 378.3 272.4C376.5 273.8 374.4 274.6 372.8 275.4C371.2 276.2 369.6 276.7 369 277"/>
<path d="M369 413.4C369.6 413.5 370.8 413.5 372.8 413.8C374.9 414.1 378.5 414.4 381.3 415.4C384.1 416.3 386.9 417.6 389.5 419.5C392.1 421.4 394.7 423.9 396.7 426.6C398.7 429.3 400.3 433.2 401.4 435.8C402.5 438.4 402.9 440.5 403.4 442.4C403.9 444.3 404.1 446.2 404.3 447L367.8 447.2Z" fill="#008320"/>
<path class="c" d="M369 413.4C369.6 413.5 370.8 413.5 372.8 413.8C374.9 414.1 378.5 414.4 381.3 415.4C384.1 416.3 386.9 417.6 389.5 419.5C392.1 421.4 394.7 423.9 396.7 426.6C398.7 429.3 400.3 433.2 401.4 435.8C402.5 438.4 402.9 440.5 403.4 442.4C403.9 444.3 404.1 446.2 404.3 447"/>
<path d="M370 435.6C370.5 435.8 371.8 436.3 372.8 436.9C373.8 437.4 375.2 438 376.2 438.9C377.2 439.8 378.1 441.2 378.9 442.4C379.7 443.6 380.6 445.4 381 446L367.8 447.2Z" fill="#044d14"/>
<path class="c" d="M370 435.6C370.5 435.8 371.8 436.3 372.8 436.9C373.8 437.4 375.2 438 376.2 438.9C377.2 439.8 378.1 441.2 378.9 442.4C379.7 443.6 380.6 445.4 381 446"/>
</g>
<path d="M372.8 442.2v1.6M435.4 442.2v1.6M498 442.2v1.6M560.5 442.2v1.6M623.1 442.2v1.6M372.8 260.1h-1.6M372.8 290.5h-1.6M372.8 320.8h-1.6M372.8 351.2h-1.6M372.8 381.5h-1.6M372.8 411.9h-1.6M372.8 442.2h-1.6" fill="none" stroke="#888" stroke-width=".6"/>
<text x="372.8" y="451.5" font-size="6.1" text-anchor="middle">4</text>
<text x="435.4" y="451.5" font-size="6.1" text-anchor="middle">5</text>
<text x="498" y="451.5" font-size="6.1" text-anchor="middle">6</text>
<text x="560.5" y="451.5" font-size="6.1" text-anchor="middle">7</text>
<text x="623.1" y="451.5" font-size="6.1" text-anchor="middle">8</text>
<text x="369.7" y="262.9" font-size="6.1" text-anchor="end">1800</text>
<text x="369.7" y="293.3" font-size="6.1" text-anchor="end">1600</text>
<text x="369.7" y="323.6" font-size="6.1" text-anchor="end">1400</text>
<text x="369.7" y="354" font-size="6.1" text-anchor="end">1200</text>
<text x="369.7" y="384.3" font-size="6.1" text-anchor="end">1000</text>
<text x="369.7" y="414.7" font-size="6.1" text-anchor="end">800</text>
<text x="369.7" y="445" font-size="6.1" text-anchor="end">600</text>
<text x="498" y="463.7" font-size="7.8" text-anchor="middle" textLength="82.8" lengthAdjust="spacingAndGlyphs">Drill Bit Diameter (mm)</text>
<text transform="translate(349.7 351.1) rotate(-90)" font-size="7.8" text-anchor="middle" textLength="75.6" lengthAdjust="spacingAndGlyphs">Spindle Speed (rpm)</text>
<text x="511.8" y="249.2" font-size="8.8" text-anchor="middle" textLength="50.5" lengthAdjust="spacingAndGlyphs" style="white-space:pre">Df  Exit : GT1</text>
<text class="lab" x="343.5" y="254" font-size="19">(d)</text>
<text x="661.9" y="269" font-size="5.8" text-anchor="middle" textLength="18.5" lengthAdjust="spacingAndGlyphs">Df Exit</text>
<rect x="633.9" y="271.4" width="6.3" height="5.4" fill="#044d14"/>
<text x="661.1" y="276.1" font-size="5.5" text-anchor="middle">&lt;</text>
<text x="679.2" y="276.1" font-size="5.5" text-anchor="end">1.08</text>
<rect x="633.9" y="279.4" width="6.3" height="5.4" fill="#008320"/>
<text x="661.1" y="284.1" font-size="5.5" text-anchor="middle">–</text>
<text x="656.1" y="284.1" font-size="5.5" text-anchor="end">1.08</text>
<text x="679.2" y="284.1" font-size="5.5" text-anchor="end">1.10</text>
<rect x="633.9" y="287.4" width="6.3" height="5.4" fill="#82cd8f"/>
<text x="661.1" y="292.1" font-size="5.5" text-anchor="middle">–</text>
<text x="656.1" y="292.1" font-size="5.5" text-anchor="end">1.10</text>
<text x="679.2" y="292.1" font-size="5.5" text-anchor="end">1.12</text>
<rect x="633.9" y="295.4" width="6.3" height="5.4" fill="#7da7d9"/>
<text x="661.1" y="300.1" font-size="5.5" text-anchor="middle">–</text>
<text x="656.1" y="300.1" font-size="5.5" text-anchor="end">1.12</text>
<text x="679.2" y="300.1" font-size="5.5" text-anchor="end">1.14</text>
<rect x="633.9" y="303.4" width="6.3" height="5.4" fill="#245fe4"/>
<text x="661.1" y="308.1" font-size="5.5" text-anchor="middle">–</text>
<text x="656.1" y="308.1" font-size="5.5" text-anchor="end">1.14</text>
<text x="679.2" y="308.1" font-size="5.5" text-anchor="end">1.16</text>
<rect x="633.9" y="311.4" width="6.3" height="5.4" fill="#1014e4"/>
<text x="661.1" y="316.1" font-size="5.5" text-anchor="middle">–</text>
<text x="656.1" y="316.1" font-size="5.5" text-anchor="end">1.16</text>
<text x="679.2" y="316.1" font-size="5.5" text-anchor="end">1.18</text>
<rect x="633.9" y="319.4" width="6.3" height="5.4" fill="#0e0cac"/>
<text x="661.1" y="324.1" font-size="5.5" text-anchor="middle">&gt;</text>
<text x="679.2" y="324.1" font-size="5.5" text-anchor="end">1.18</text>
<clipPath id="k4"><rect x="33.2" y="503.7" width="251.6" height="182.9"/></clipPath>
<g clip-path="url(#k4)">
<rect x="33.2" y="503.7" width="251.6" height="182.9" fill="#008320"/>
<path d="M131 496C132 497.3 134.9 500.6 137 503.7C139.1 506.8 140.6 511 143.5 514.3C146.4 517.6 150.5 520.6 154.5 523.5C158.5 526.4 162.8 529.1 167.3 531.7C171.8 534.3 176.8 537.1 181.6 538.9C186.4 540.7 191.1 541.9 195.9 542.6C200.7 543.4 205.4 543.7 210.2 543.4C215 543.1 219.7 542.2 224.5 540.9C229.3 539.6 234.4 537.8 238.8 535.8C243.2 533.8 247 531.6 251.1 528.7C255.2 525.8 259.9 521.6 263.3 518.4C266.7 515.1 269.4 511.6 271.5 509.2C273.6 506.8 274.2 505.7 275.6 503.7C277 501.7 279.3 498.1 280 497Z" fill="#044d14"/>
<path class="c" d="M131 496C132 497.3 134.9 500.6 137 503.7C139.1 506.8 140.6 511 143.5 514.3C146.4 517.6 150.5 520.6 154.5 523.5C158.5 526.4 162.8 529.1 167.3 531.7C171.8 534.3 176.8 537.1 181.6 538.9C186.4 540.7 191.1 541.9 195.9 542.6C200.7 543.4 205.4 543.7 210.2 543.4C215 543.1 219.7 542.2 224.5 540.9C229.3 539.6 234.4 537.8 238.8 535.8C243.2 533.8 247 531.6 251.1 528.7C255.2 525.8 259.9 521.6 263.3 518.4C266.7 515.1 269.4 511.6 271.5 509.2C273.6 506.8 274.2 505.7 275.6 503.7C277 501.7 279.3 498.1 280 497"/>
<path d="M253 692.5C254 691.5 256.5 689.2 259.2 686.6C261.9 684 265.1 680.8 269.4 676.8C273.7 672.8 281.4 665.7 284.8 662.5C288.2 659.3 289.1 658.5 290 657.7L289.8 691.6Z" fill="#044d14"/>
<path class="c" d="M253 692.5C254 691.5 256.5 689.2 259.2 686.6C261.9 684 265.1 680.8 269.4 676.8C273.7 672.8 281.4 665.7 284.8 662.5C288.2 659.3 289.1 658.5 290 657.7"/>
<path d="M103.5 497C103.5 498.1 103.5 500.1 103.7 503.7C103.9 507.3 104 513.2 104.7 518.4C105.4 523.6 106.4 529.3 107.8 534.8C109.2 540.2 110.7 546 112.9 551.1C115.1 556.2 117.7 561 121.1 565.4C124.5 569.8 128.9 574 133.3 577.7C137.7 581.5 143.8 585.1 147.6 587.9C151.4 590.7 152.7 592 156 594.5C159.3 597 163.4 600.4 167.3 603.2C171.2 606 175.4 608.3 179.5 611.4C183.6 614.5 188.4 618.2 191.8 621.6C195.2 625 198 628 200 631.8C202 635.5 203.1 639.7 204 644.1C204.9 648.5 205.6 653.6 205.7 658.4C205.8 663.2 205.3 668 204.7 672.7C204.1 677.4 202.7 683.2 202 686.6C201.3 690 200.8 691.9 200.5 693L28.2 691.6L28.2 498.7Z" fill="#82cd8f"/>
<path class="c" d="M103.5 497C103.5 498.1 103.5 500.1 103.7 503.7C103.9 507.3 104 513.2 104.7 518.4C105.4 523.6 106.4 529.3 107.8 534.8C109.2 540.2 110.7 546 112.9 551.1C115.1 556.2 117.7 561 121.1 565.4C124.5 569.8 128.9 574 133.3 577.7C137.7 581.5 143.8 585.1 147.6 587.9C151.4 590.7 152.7 592 156 594.5C159.3 597 163.4 600.4 167.3 603.2C171.2 606 175.4 608.3 179.5 611.4C183.6 614.5 188.4 618.2 191.8 621.6C195.2 625 198 628 200 631.8C202 635.5 203.1 639.7 204 644.1C204.9 648.5 205.6 653.6 205.7 658.4C205.8 663.2 205.3 668 204.7 672.7C204.1 677.4 202.7 683.2 202 686.6C201.3 690 200.8 691.9 200.5 693"/>
<path d="M81 497C80.7 498.1 80 500.8 79.2 503.7C78.4 506.6 77.5 509.5 76.1 514.3C74.7 519.1 72.7 526.6 71 532.7C69.3 538.8 67.3 545.7 65.9 551.1C64.5 556.5 63.5 560.6 62.8 565.4C62 570.2 61.4 575.2 61.4 579.7C61.4 584.2 61.7 588.6 62.6 592.5C63.5 596.4 64.7 599.4 66.9 603.2C69.2 607 72.2 611.4 76.1 615.5C80 619.6 85.3 623.6 90.4 627.7C95.5 631.8 101.3 635.6 106.8 640C112.2 644.4 118.3 649.7 123.1 654.3C127.9 658.9 132 663.5 135.4 667.6C138.8 671.7 141.5 675.6 143.5 678.8C145.5 682 146.5 684.4 147.6 686.6C148.7 688.8 149.6 691.1 150 692L28.2 691.6L28.2 498.7Z" fill="#7da7d9"/>
<path class="c" d="M81 497C80.7 498.1 80 500.8 79.2 503.7C78.4 506.6 77.5 509.5 76.1 514.3C74.7 519.1 72.7 526.6 71 532.7C69.3 538.8 67.3 545.7 65.9 551.1C64.5 556.5 63.5 560.6 62.8 565.4C62 570.2 61.4 575.2 61.4 579.7C61.4 584.2 61.7 588.6 62.6 592.5C63.5 596.4 64.7 599.4 66.9 603.2C69.2 607 72.2 611.4 76.1 615.5C80 619.6 85.3 623.6 90.4 627.7C95.5 631.8 101.3 635.6 106.8 640C112.2 644.4 118.3 649.7 123.1 654.3C127.9 658.9 132 663.5 135.4 667.6C138.8 671.7 141.5 675.6 143.5 678.8C145.5 682 146.5 684.4 147.6 686.6C148.7 688.8 149.6 691.1 150 692"/>
<path d="M61 497C60.5 498.1 59.3 500.5 57.7 503.7C56.1 506.9 54 511.6 51.6 516.4C49.2 521.2 46.5 527.4 43.4 532.7C40.3 538 35.4 544.8 33.2 548.1C31 551.4 30.5 551.8 30 552.5L28.2 498.7Z" fill="#1014e4"/>
<path class="c" d="M61 497C60.5 498.1 59.3 500.5 57.7 503.7C56.1 506.9 54 511.6 51.6 516.4C49.2 521.2 46.5 527.4 43.4 532.7C40.3 538 35.4 544.8 33.2 548.1C31 551.4 30.5 551.8 30 552.5"/>
<path d="M43 498C42.5 498.9 40.8 501.8 39.7 503.7C38.6 505.6 37.3 507.6 36.2 509.2C35.1 510.8 34.2 512 33.2 513.3C32.2 514.6 30.5 516.4 30 517L28.2 498.7Z" fill="#0a0872"/>
<path class="c" d="M43 498C42.5 498.9 40.8 501.8 39.7 503.7C38.6 505.6 37.3 507.6 36.2 509.2C35.1 510.8 34.2 512 33.2 513.3C32.2 514.6 30.5 516.4 30 517"/>
<path d="M28 644.7C28.9 645.1 30.3 645.8 33.2 647.2C36.1 648.6 41 650.9 45.4 653.3C49.8 655.7 54.9 658.6 59.7 661.5C64.5 664.4 69.6 667.6 74 670.7C78.4 673.8 82.9 677.2 86.3 679.9C89.7 682.5 92.2 684.7 94.5 686.6C96.8 688.5 99.1 690.6 100 691.4L28.2 691.6Z" fill="#1014e4"/>
<path class="c" d="M28 644.7C28.9 645.1 30.3 645.8 33.2 647.2C36.1 648.6 41 650.9 45.4 653.3C49.8 655.7 54.9 658.6 59.7 661.5C64.5 664.4 69.6 667.6 74 670.7C78.4 673.8 82.9 677.2 86.3 679.9C89.7 682.5 92.2 684.7 94.5 686.6C96.8 688.5 99.1 690.6 100 691.4"/>
<path d="M29 678.5C29.7 678.9 31.7 680 33.2 680.9C34.8 681.8 36.8 682.9 38.3 683.9C39.8 684.9 40.9 685.6 42.4 686.6C43.9 687.6 46.2 689.4 47 690L28.2 691.6Z" fill="#0a0872"/>
<path class="c" d="M29 678.5C29.7 678.9 31.7 680 33.2 680.9C34.8 681.8 36.8 682.9 38.3 683.9C39.8 684.9 40.9 685.6 42.4 686.6C43.9 687.6 46.2 689.4 47 690"/>
</g>
<path d="M33.2 686.6v1.6M96.1 686.6v1.6M159 686.6v1.6M221.9 686.6v1.6M284.8 686.6v1.6M33.2 503.7h-1.6M33.2 534.2h-1.6M33.2 564.7h-1.6M33.2 595.1h-1.6M33.2 625.6h-1.6M33.2 656.1h-1.6M33.2 686.6h-1.6" fill="none" stroke="#888" stroke-width=".6"/>
<text x="33.2" y="695.9" font-size="6.1" text-anchor="middle">4</text>
<text x="96.1" y="695.9" font-size="6.1" text-anchor="middle">5</text>
<text x="159" y="695.9" font-size="6.1" text-anchor="middle">6</text>
<text x="221.9" y="695.9" font-size="6.1" text-anchor="middle">7</text>
<text x="284.8" y="695.9" font-size="6.1" text-anchor="middle">8</text>
<text x="30.1" y="506.5" font-size="6.1" text-anchor="end">1800</text>
<text x="30.1" y="537" font-size="6.1" text-anchor="end">1600</text>
<text x="30.1" y="567.5" font-size="6.1" text-anchor="end">1400</text>
<text x="30.1" y="597.9" font-size="6.1" text-anchor="end">1200</text>
<text x="30.1" y="628.4" font-size="6.1" text-anchor="end">1000</text>
<text x="30.1" y="658.9" font-size="6.1" text-anchor="end">800</text>
<text x="30.1" y="689.4" font-size="6.1" text-anchor="end">600</text>
<text x="159" y="708.1" font-size="7.8" text-anchor="middle" textLength="82.8" lengthAdjust="spacingAndGlyphs">Drill Bit Diameter (mm)</text>
<text transform="translate(10.1 595.1) rotate(-90)" font-size="7.8" text-anchor="middle" textLength="75.6" lengthAdjust="spacingAndGlyphs">Spindle Speed (rpm)</text>
<text x="172.8" y="491.6" font-size="8.8" text-anchor="middle" textLength="58.5" lengthAdjust="spacingAndGlyphs" style="white-space:pre">Df  Entry : GT2</text>
<text class="lab" x="0.5" y="497" font-size="19">(e)</text>
<text x="323.2" y="512.7" font-size="5.8" text-anchor="middle" textLength="22.5" lengthAdjust="spacingAndGlyphs">Df Entry</text>
<rect x="295.3" y="515.1" width="6.3" height="5.4" fill="#044d14"/>
<text x="323" y="519.8" font-size="5.5" text-anchor="middle">&lt;</text>
<text x="340.8" y="519.8" font-size="5.5" text-anchor="end">1.17</text>
<rect x="295.3" y="523.1" width="6.3" height="5.4" fill="#008320"/>
<text x="323" y="527.8" font-size="5.5" text-anchor="middle">–</text>
<text x="317" y="527.8" font-size="5.5" text-anchor="end">1.17</text>
<text x="340.8" y="527.8" font-size="5.5" text-anchor="end">1.20</text>
<rect x="295.3" y="531.2" width="6.3" height="5.4" fill="#82cd8f"/>
<text x="323" y="535.9" font-size="5.5" text-anchor="middle">–</text>
<text x="317" y="535.9" font-size="5.5" text-anchor="end">1.20</text>
<text x="340.8" y="535.9" font-size="5.5" text-anchor="end">1.23</text>
<rect x="295.3" y="539.2" width="6.3" height="5.4" fill="#7da7d9"/>
<text x="323" y="543.9" font-size="5.5" text-anchor="middle">–</text>
<text x="317" y="543.9" font-size="5.5" text-anchor="end">1.23</text>
<text x="340.8" y="543.9" font-size="5.5" text-anchor="end">1.26</text>
<rect x="295.3" y="547.3" width="6.3" height="5.4" fill="#1014e4"/>
<text x="323" y="552" font-size="5.5" text-anchor="middle">–</text>
<text x="317" y="552" font-size="5.5" text-anchor="end">1.26</text>
<text x="340.8" y="552" font-size="5.5" text-anchor="end">1.29</text>
<rect x="295.3" y="555.4" width="6.3" height="5.4" fill="#0a0872"/>
<text x="323" y="560" font-size="5.5" text-anchor="middle">&gt;</text>
<text x="340.8" y="560" font-size="5.5" text-anchor="end">1.29</text>
<clipPath id="k5"><rect x="373.1" y="503.1" width="253.5" height="182.5"/></clipPath>
<g clip-path="url(#k5)">
<rect x="373.1" y="503.1" width="253.5" height="182.5" fill="#7da7d9"/>
<path d="M370 673.5C370.5 673 371.4 672.2 373.1 670.5C374.8 668.8 377.8 666.6 380.3 663.4C382.9 660.2 385.7 656.3 388.4 651.1C391.1 645.9 394.2 637.8 396.6 632C399 626.2 400.8 621.7 402.7 616.6C404.6 611.5 406 606.4 407.9 601.3C409.8 596.2 411.8 590.8 414 586C416.2 581.2 418.6 577 421.1 572.7C423.7 568.4 426.5 564 429.3 560.4C432.1 556.8 434.6 553.9 438 551.2C441.4 548.5 444.3 546.6 449.7 544C455.1 541.4 463.4 538.1 470.2 535.8C477 533.5 484 531.6 490.6 530.2C497.2 528.8 504.5 528.3 510 527.5C515.5 526.7 517.8 526.6 523.4 525.6C529 524.6 537.1 522.9 543.9 521.5C550.7 520.1 557.5 518.9 564.3 517.4C571.1 515.9 579.6 513.9 584.7 512.3C589.8 510.7 591.6 509.7 595 507.8C598.4 505.9 603.5 502.2 605.2 501.1L368.1 498.1Z" fill="#82cd8f"/>
<path class="c" d="M370 673.5C370.5 673 371.4 672.2 373.1 670.5C374.8 668.8 377.8 666.6 380.3 663.4C382.9 660.2 385.7 656.3 388.4 651.1C391.1 645.9 394.2 637.8 396.6 632C399 626.2 400.8 621.7 402.7 616.6C404.6 611.5 406 606.4 407.9 601.3C409.8 596.2 411.8 590.8 414 586C416.2 581.2 418.6 577 421.1 572.7C423.7 568.4 426.5 564 429.3 560.4C432.1 556.8 434.6 553.9 438 551.2C441.4 548.5 444.3 546.6 449.7 544C455.1 541.4 463.4 538.1 470.2 535.8C477 533.5 484 531.6 490.6 530.2C497.2 528.8 504.5 528.3 510 527.5C515.5 526.7 517.8 526.6 523.4 525.6C529 524.6 537.1 522.9 543.9 521.5C550.7 520.1 557.5 518.9 564.3 517.4C571.1 515.9 579.6 513.9 584.7 512.3C589.8 510.7 591.6 509.7 595 507.8C598.4 505.9 603.5 502.2 605.2 501.1"/>
<path d="M370 652C370.5 651.3 371.4 651 373.1 648C374.8 645 378.2 638.4 380.3 634C382.4 629.6 383.5 626.5 385.4 621.7C387.3 616.9 389.5 610.9 391.5 605.4C393.5 599.9 395.6 594.3 397.6 589C399.7 583.7 401.6 578.5 403.8 573.7C406 568.9 408.3 564.6 410.9 560.4C413.4 556.1 416 551.6 419.1 548.2C422.2 544.8 425.9 542.4 429.3 540C432.7 537.6 434.4 536.2 439.5 533.8C444.6 531.4 452.9 528 460 525.6C467.1 523.2 475.2 521 482.4 519.5C489.6 518 496.2 517.5 503 516.5C509.8 515.5 516.6 514.5 523.4 513.3C530.2 512.1 537.8 510.4 543.9 509.2C550 507.9 555.3 507.1 560.2 505.8C565.1 504.6 571.3 502.4 573.5 501.7L368.1 498.1Z" fill="#52b05a"/>
<path class="c" d="M370 652C370.5 651.3 371.4 651 373.1 648C374.8 645 378.2 638.4 380.3 634C382.4 629.6 383.5 626.5 385.4 621.7C387.3 616.9 389.5 610.9 391.5 605.4C393.5 599.9 395.6 594.3 397.6 589C399.7 583.7 401.6 578.5 403.8 573.7C406 568.9 408.3 564.6 410.9 560.4C413.4 556.1 416 551.6 419.1 548.2C422.2 544.8 425.9 542.4 429.3 540C432.7 537.6 434.4 536.2 439.5 533.8C444.6 531.4 452.9 528 460 525.6C467.1 523.2 475.2 521 482.4 519.5C489.6 518 496.2 517.5 503 516.5C509.8 515.5 516.6 514.5 523.4 513.3C530.2 512.1 537.8 510.4 543.9 509.2C550 507.9 555.3 507.1 560.2 505.8C565.1 504.6 571.3 502.4 573.5 501.7"/>
<path d="M370.5 626C370.9 625 372.2 622.1 373.1 619.7C374.1 617.3 375 614.9 376.2 611.5C377.4 608.1 378.8 603.5 380.3 599.3C381.8 595 383.7 590.8 385.4 586C387.1 581.2 389 575 390.5 570.7C392 566.4 393.2 563.8 394.6 560.4C396 557 396.8 553.6 398.7 550.2C400.6 546.8 403.9 543.1 406.3 540C408.7 536.9 409.2 534.6 413 531.7C416.8 528.8 423.2 525 429.3 522.5C435.4 520 442.9 518.3 449.7 516.4C456.5 514.5 463.5 512.5 470.2 511.3C476.9 510.1 482.5 509.9 490 509C497.5 508.1 508 507 515.3 505.8C522.6 504.6 530.6 502.4 533.7 501.7L368.1 498.1Z" fill="#008320"/>
<path class="c" d="M370.5 626C370.9 625 372.2 622.1 373.1 619.7C374.1 617.3 375 614.9 376.2 611.5C377.4 608.1 378.8 603.5 380.3 599.3C381.8 595 383.7 590.8 385.4 586C387.1 581.2 389 575 390.5 570.7C392 566.4 393.2 563.8 394.6 560.4C396 557 396.8 553.6 398.7 550.2C400.6 546.8 403.9 543.1 406.3 540C408.7 536.9 409.2 534.6 413 531.7C416.8 528.8 423.2 525 429.3 522.5C435.4 520 442.9 518.3 449.7 516.4C456.5 514.5 463.5 512.5 470.2 511.3C476.9 510.1 482.5 509.9 490 509C497.5 508.1 508 507 515.3 505.8C522.6 504.6 530.6 502.4 533.7 501.7"/>
<path d="M371.1 588.9C372.1 585.7 375.3 575.8 377.2 569.5C379.1 563.2 380.4 556.9 382.3 551.1C384.2 545.3 386.1 539.6 388.4 534.8C390.8 530 393.2 525.8 396.6 522.5C400 519.3 403.4 517.4 408.9 515.4C414.3 513.3 422.5 511.6 429.3 510.3C436.1 508.9 441.6 508.6 449.7 507.2C457.9 505.8 473.6 502.6 478.4 501.7L368.1 498.1Z" fill="#026802"/>
<path class="c" d="M371.1 588.9C372.1 585.7 375.3 575.8 377.2 569.5C379.1 563.2 380.4 556.9 382.3 551.1C384.2 545.3 386.1 539.6 388.4 534.8C390.8 530 393.2 525.8 396.6 522.5C400 519.3 403.4 517.4 408.9 515.4C414.3 513.3 422.5 511.6 429.3 510.3C436.1 508.9 441.6 508.6 449.7 507.2C457.9 505.8 473.6 502.6 478.4 501.7"/>
<path d="M420.1 607.4C421.6 603.1 423.3 599.1 425.2 595.2C427.1 591.3 429.3 587.1 431.4 583.9C433.5 580.7 435.6 578.6 438 575.8C440.4 573 442.7 569.9 446 567C449.3 564.1 453.2 561.3 457.9 558.3C462.6 555.3 468.9 551.6 474.3 549.1C479.8 546.6 485.3 544.6 490.6 543C495.9 541.4 500.5 540.3 506 539.3C511.5 538.3 517.1 537.4 523.4 536.8C529.7 536.1 537.1 535.6 543.9 535.4C550.7 535.2 558.2 535.4 564.3 535.8C570.4 536.2 575.9 536.7 580.7 537.9C585.5 539.1 589.5 540.8 592.9 543C596.3 545.2 599.1 547.7 601.1 551.1C603.1 554.5 604.1 558.6 604.6 563.4C605.1 568.2 604.6 574.3 604.4 579.7C604.2 585.1 603.8 590.6 603.2 596C602.7 601.4 602 607.2 601.1 612.3C600.2 617.4 599.4 621.8 598 626.6C596.6 631.4 595.4 636.1 592.9 640.9C590.4 645.7 587.1 651.1 582.7 655.2C578.3 659.3 572.5 662.5 566.4 665.4C560.3 668.3 553.1 670.7 545.9 672.6C538.7 674.5 531 675.5 523.4 676.7C515.8 677.9 508.2 678.7 500 679.6C491.8 680.5 482 681.6 474.3 682.2C466.6 682.8 460.3 683.2 453.8 683.4C447.3 683.6 440.8 683.8 435.4 683.4C429.9 683 424.7 682.3 421.1 680.8C417.5 679.3 415.7 677.2 414 674.6C412.3 672 411.2 669.3 410.9 665.4C410.5 661.5 411.4 656 411.9 651.1C412.4 646.2 413.2 641 414 636C414.8 631 415.5 625.8 416.5 621C417.5 616.2 418.7 611.7 420.1 607.4Z" fill="#245fe4"/>
<path class="c" d="M420.1 607.4C421.6 603.1 423.3 599.1 425.2 595.2C427.1 591.3 429.3 587.1 431.4 583.9C433.5 580.7 435.6 578.6 438 575.8C440.4 573 442.7 569.9 446 567C449.3 564.1 453.2 561.3 457.9 558.3C462.6 555.3 468.9 551.6 474.3 549.1C479.8 546.6 485.3 544.6 490.6 543C495.9 541.4 500.5 540.3 506 539.3C511.5 538.3 517.1 537.4 523.4 536.8C529.7 536.1 537.1 535.6 543.9 535.4C550.7 535.2 558.2 535.4 564.3 535.8C570.4 536.2 575.9 536.7 580.7 537.9C585.5 539.1 589.5 540.8 592.9 543C596.3 545.2 599.1 547.7 601.1 551.1C603.1 554.5 604.1 558.6 604.6 563.4C605.1 568.2 604.6 574.3 604.4 579.7C604.2 585.1 603.8 590.6 603.2 596C602.7 601.4 602 607.2 601.1 612.3C600.2 617.4 599.4 621.8 598 626.6C596.6 631.4 595.4 636.1 592.9 640.9C590.4 645.7 587.1 651.1 582.7 655.2C578.3 659.3 572.5 662.5 566.4 665.4C560.3 668.3 553.1 670.7 545.9 672.6C538.7 674.5 531 675.5 523.4 676.7C515.8 677.9 508.2 678.7 500 679.6C491.8 680.5 482 681.6 474.3 682.2C466.6 682.8 460.3 683.2 453.8 683.4C447.3 683.6 440.8 683.8 435.4 683.4C429.9 683 424.7 682.3 421.1 680.8C417.5 679.3 415.7 677.2 414 674.6C412.3 672 411.2 669.3 410.9 665.4C410.5 661.5 411.4 656 411.9 651.1C412.4 646.2 413.2 641 414 636C414.8 631 415.5 625.8 416.5 621C417.5 616.2 418.7 611.7 420.1 607.4Z"/>
<path d="M446 600C448.2 595.8 450.8 591.9 453.8 587.9C456.8 583.9 460 579.5 464.1 575.7C468.2 572 473.3 568.3 478.4 565.4C483.5 562.5 489.9 560.1 494.7 558.3C499.5 556.5 502.9 555.6 507 554.8C511.1 553.9 514.2 553.5 519.3 553.2C524.4 552.9 531.6 552.7 537.7 553.2C543.8 553.7 551 554.5 556.1 556.2C561.2 557.9 564.8 560.5 568.4 563.4C572 566.3 575.4 569.9 577.6 573.6C579.8 577.4 581 581.8 581.7 585.9C582.4 590 582.1 593.3 581.9 598C581.7 602.7 581.3 608.8 580.3 614.3C579.2 619.8 577.9 625.6 575.6 630.7C573.3 635.8 570.3 640.9 566.4 645C562.5 649.1 557.5 652.5 552 655.2C546.5 657.9 539.8 659.9 533.7 661.4C527.6 662.9 520.9 663.8 515.3 664.4C509.7 665 504.1 665.1 500 665.3C495.9 665.5 495.2 665.7 490.6 665.4C486 665.1 478 664.6 472.2 663.4C466.4 662.2 460.5 660.5 455.9 658.3C451.3 656.1 447.5 653.3 444.6 650.1C441.7 646.9 439.7 643.1 438.5 638.9C437.3 634.6 437.2 628.9 437.5 624.6C437.8 620.3 438.9 617.1 440.3 613C441.7 608.9 443.8 604.2 446 600Z" fill="#1014e4"/>
<path class="c" d="M446 600C448.2 595.8 450.8 591.9 453.8 587.9C456.8 583.9 460 579.5 464.1 575.7C468.2 572 473.3 568.3 478.4 565.4C483.5 562.5 489.9 560.1 494.7 558.3C499.5 556.5 502.9 555.6 507 554.8C511.1 553.9 514.2 553.5 519.3 553.2C524.4 552.9 531.6 552.7 537.7 553.2C543.8 553.7 551 554.5 556.1 556.2C561.2 557.9 564.8 560.5 568.4 563.4C572 566.3 575.4 569.9 577.6 573.6C579.8 577.4 581 581.8 581.7 585.9C582.4 590 582.1 593.3 581.9 598C581.7 602.7 581.3 608.8 580.3 614.3C579.2 619.8 577.9 625.6 575.6 630.7C573.3 635.8 570.3 640.9 566.4 645C562.5 649.1 557.5 652.5 552 655.2C546.5 657.9 539.8 659.9 533.7 661.4C527.6 662.9 520.9 663.8 515.3 664.4C509.7 665 504.1 665.1 500 665.3C495.9 665.5 495.2 665.7 490.6 665.4C486 665.1 478 664.6 472.2 663.4C466.4 662.2 460.5 660.5 455.9 658.3C451.3 656.1 447.5 653.3 444.6 650.1C441.7 646.9 439.7 643.1 438.5 638.9C437.3 634.6 437.2 628.9 437.5 624.6C437.8 620.3 438.9 617.1 440.3 613C441.7 608.9 443.8 604.2 446 600Z"/>
<path d="M469.2 603C470.5 600.6 472.1 598.6 474.3 596.1C476.5 593.6 479 590.5 482.4 587.9C485.8 585.3 491.1 582.6 494.7 580.8C498.3 579 500.6 577.9 504 577C507.4 576.1 511 575.3 515.3 575.3C519.6 575.2 525.2 575.6 529.6 576.7C534 577.8 538.2 579.6 541.8 581.8C545.4 584 548.7 587.1 551 590C553.3 592.9 555 595.6 555.5 599C556 602.4 555.2 606.4 554.1 610.3C553 614.2 551.7 618.6 549 622.5C546.3 626.4 542.3 630.7 537.7 633.8C533.1 636.9 526.7 639.3 521.4 640.9C516.1 642.5 510.4 643.3 506 643.6C501.6 643.9 498.8 643.6 494.7 642.6C490.6 641.6 485.1 639.9 481.4 637.9C477.6 635.9 474.6 633.6 472.2 630.7C469.8 627.8 468.1 623.9 467.1 620.5C466.2 617.1 466.1 613.2 466.5 610.3C466.9 607.4 467.9 605.4 469.2 603Z" fill="#0e0cac"/>
<path class="c" d="M469.2 603C470.5 600.6 472.1 598.6 474.3 596.1C476.5 593.6 479 590.5 482.4 587.9C485.8 585.3 491.1 582.6 494.7 580.8C498.3 579 500.6 577.9 504 577C507.4 576.1 511 575.3 515.3 575.3C519.6 575.2 525.2 575.6 529.6 576.7C534 577.8 538.2 579.6 541.8 581.8C545.4 584 548.7 587.1 551 590C553.3 592.9 555 595.6 555.5 599C556 602.4 555.2 606.4 554.1 610.3C553 614.2 551.7 618.6 549 622.5C546.3 626.4 542.3 630.7 537.7 633.8C533.1 636.9 526.7 639.3 521.4 640.9C516.1 642.5 510.4 643.3 506 643.6C501.6 643.9 498.8 643.6 494.7 642.6C490.6 641.6 485.1 639.9 481.4 637.9C477.6 635.9 474.6 633.6 472.2 630.7C469.8 627.8 468.1 623.9 467.1 620.5C466.2 617.1 466.1 613.2 466.5 610.3C466.9 607.4 467.9 605.4 469.2 603Z"/>
<path d="M628 560C627.8 560.9 627.3 561.4 626.6 565.4C625.9 569.4 624.6 578.4 623.6 583.8C622.6 589.2 621.5 593.2 620.5 598C619.5 602.8 618.4 607.5 617.4 612.3C616.4 617.1 615.8 621.1 614.4 626.6C613 632.1 611.9 639.2 609.3 645C606.7 650.8 603.1 656.8 599 661.4C594.9 666 590.1 669.4 584.7 672.6C579.3 675.8 572.5 678.3 566.4 680.8C560.3 683.3 551.1 686.4 548 687.5L631.6 690.6Z" fill="#82cd8f"/>
<path class="c" d="M628 560C627.8 560.9 627.3 561.4 626.6 565.4C625.9 569.4 624.6 578.4 623.6 583.8C622.6 589.2 621.5 593.2 620.5 598C619.5 602.8 618.4 607.5 617.4 612.3C616.4 617.1 615.8 621.1 614.4 626.6C613 632.1 611.9 639.2 609.3 645C606.7 650.8 603.1 656.8 599 661.4C594.9 666 590.1 669.4 584.7 672.6C579.3 675.8 572.5 678.3 566.4 680.8C560.3 683.3 551.1 686.4 548 687.5"/>
<path d="M628.1 643C627.2 645.7 624 654.9 622.6 659.3C621.1 663.7 621 666.3 619.5 669.5C618 672.8 616.1 675.7 613.4 678.7C610.6 681.7 604.8 686.1 603.1 687.5L631.6 690.6Z" fill="#52b05a"/>
<path class="c" d="M628.1 643C627.2 645.7 624 654.9 622.6 659.3C621.1 663.7 621 666.3 619.5 669.5C618 672.8 616.1 675.7 613.4 678.7C610.6 681.7 604.8 686.1 603.1 687.5"/>
</g>
<path d="M373.1 685.6v1.6M436.5 685.6v1.6M499.9 685.6v1.6M563.2 685.6v1.6M626.6 685.6v1.6M373.1 503.1h-1.6M373.1 533.5h-1.6M373.1 563.9h-1.6M373.1 594.4h-1.6M373.1 624.8h-1.6M373.1 655.2h-1.6M373.1 685.6h-1.6" fill="none" stroke="#888" stroke-width=".6"/>
<text x="373.1" y="694.9" font-size="6.1" text-anchor="middle">4</text>
<text x="436.5" y="694.9" font-size="6.1" text-anchor="middle">5</text>
<text x="499.9" y="694.9" font-size="6.1" text-anchor="middle">6</text>
<text x="563.2" y="694.9" font-size="6.1" text-anchor="middle">7</text>
<text x="626.6" y="694.9" font-size="6.1" text-anchor="middle">8</text>
<text x="370" y="505.9" font-size="6.1" text-anchor="end">1800</text>
<text x="370" y="536.3" font-size="6.1" text-anchor="end">1600</text>
<text x="370" y="566.7" font-size="6.1" text-anchor="end">1400</text>
<text x="370" y="597.1" font-size="6.1" text-anchor="end">1200</text>
<text x="370" y="627.6" font-size="6.1" text-anchor="end">1000</text>
<text x="370" y="658" font-size="6.1" text-anchor="end">800</text>
<text x="370" y="688.4" font-size="6.1" text-anchor="end">600</text>
<text x="499.9" y="707.1" font-size="7.8" text-anchor="middle" textLength="82.8" lengthAdjust="spacingAndGlyphs">Drill Bit Diameter (mm)</text>
<text transform="translate(350 594.4) rotate(-90)" font-size="7.8" text-anchor="middle" textLength="75.6" lengthAdjust="spacingAndGlyphs">Spindle Speed (rpm)</text>
<text x="512.8" y="490.6" font-size="8.8" text-anchor="middle" textLength="52.5" lengthAdjust="spacingAndGlyphs" style="white-space:pre">Df  Exit : GT2</text>
<text class="lab" x="345.5" y="497" font-size="19">(f)</text>
<text x="664.8" y="512.1" font-size="5.8" text-anchor="middle" textLength="18.5" lengthAdjust="spacingAndGlyphs">Df Exit</text>
<rect x="638.1" y="514.5" width="6.3" height="5.4" fill="#026802"/>
<text x="664.6" y="519.2" font-size="5.5" text-anchor="middle">&lt;</text>
<text x="680.9" y="519.2" font-size="5.5" text-anchor="end">1.12</text>
<rect x="638.1" y="522.3" width="6.3" height="5.4" fill="#008320"/>
<text x="664.6" y="527" font-size="5.5" text-anchor="middle">–</text>
<text x="659" y="527" font-size="5.5" text-anchor="end">1.12</text>
<text x="680.9" y="527" font-size="5.5" text-anchor="end">1.13</text>
<rect x="638.1" y="530.1" width="6.3" height="5.4" fill="#52b05a"/>
<text x="664.6" y="534.8" font-size="5.5" text-anchor="middle">–</text>
<text x="659" y="534.8" font-size="5.5" text-anchor="end">1.13</text>
<text x="680.9" y="534.8" font-size="5.5" text-anchor="end">1.14</text>
<rect x="638.1" y="538" width="6.3" height="5.4" fill="#82cd8f"/>
<text x="664.6" y="542.7" font-size="5.5" text-anchor="middle">–</text>
<text x="659" y="542.7" font-size="5.5" text-anchor="end">1.14</text>
<text x="680.9" y="542.7" font-size="5.5" text-anchor="end">1.15</text>
<rect x="638.1" y="545.8" width="6.3" height="5.4" fill="#7da7d9"/>
<text x="664.6" y="550.5" font-size="5.5" text-anchor="middle">–</text>
<text x="659" y="550.5" font-size="5.5" text-anchor="end">1.15</text>
<text x="680.9" y="550.5" font-size="5.5" text-anchor="end">1.16</text>
<rect x="638.1" y="553.6" width="6.3" height="5.4" fill="#245fe4"/>
<text x="664.6" y="558.3" font-size="5.5" text-anchor="middle">–</text>
<text x="659" y="558.3" font-size="5.5" text-anchor="end">1.16</text>
<text x="680.9" y="558.3" font-size="5.5" text-anchor="end">1.17</text>
<rect x="638.1" y="561.4" width="6.3" height="5.4" fill="#1014e4"/>
<text x="664.6" y="566.1" font-size="5.5" text-anchor="middle">–</text>
<text x="659" y="566.1" font-size="5.5" text-anchor="end">1.17</text>
<text x="680.9" y="566.1" font-size="5.5" text-anchor="end">1.18</text>
<rect x="638.1" y="569.2" width="6.3" height="5.4" fill="#0e0cac"/>
<text x="664.6" y="573.9" font-size="5.5" text-anchor="middle">&gt;</text>
<text x="680.9" y="573.9" font-size="5.5" text-anchor="end">1.18</text>
<clipPath id="k6"><rect x="33.2" y="746.7" width="249.5" height="180.7"/></clipPath>
<g clip-path="url(#k6)">
<rect x="33.2" y="746.7" width="249.5" height="180.7" fill="#82cd8f"/>
<path d="M28 758.6C28.9 758.7 26.9 758.5 33.2 759C39.5 759.5 53.6 760.5 65.9 761.5C78.2 762.5 94.5 763.8 106.8 764.9C119 766 130.5 767.2 139.4 768.2C148.3 769.2 154 770.1 160 770.9C166 771.6 169.4 772 175.4 772.7C181.4 773.4 189.1 774.5 195.9 775.2C202.7 776 209.5 776.8 216.3 777.2C223.1 777.6 230 777.9 236.8 777.8C243.6 777.7 251.1 777.3 257.2 776.8C263.3 776.3 269.2 775.3 273.5 774.7C277.8 774.1 280.3 773.6 282.7 773.1C285.1 772.6 287.1 772.2 288 772L287.7 741.7L28.2 741.7Z" fill="#008320"/>
<path class="c" d="M28 758.6C28.9 758.7 26.9 758.5 33.2 759C39.5 759.5 53.6 760.5 65.9 761.5C78.2 762.5 94.5 763.8 106.8 764.9C119 766 130.5 767.2 139.4 768.2C148.3 769.2 154 770.1 160 770.9C166 771.6 169.4 772 175.4 772.7C181.4 773.4 189.1 774.5 195.9 775.2C202.7 776 209.5 776.8 216.3 777.2C223.1 777.6 230 777.9 236.8 777.8C243.6 777.7 251.1 777.3 257.2 776.8C263.3 776.3 269.2 775.3 273.5 774.7C277.8 774.1 280.3 773.6 282.7 773.1C285.1 772.6 287.1 772.2 288 772"/>
<path d="M28 774.5C28.9 774.6 29.6 774.7 33.2 775.2C36.8 775.8 43.4 776.5 49.5 777.8C55.6 779.1 63.2 780.8 70 782.9C76.8 785 83.6 787.4 90.4 790.1C97.2 792.8 104.7 796.2 110.8 799.3C116.9 802.4 122.4 805.3 127.2 808.5C132 811.7 136 815.1 139.4 818.7C142.8 822.3 145.8 826.4 147.6 829.9C149.4 833.4 150.1 837 150.5 840C150.9 843 150.8 845.1 150.1 848C149.4 850.9 148.4 853.5 146.6 857.5C144.8 861.5 142.3 866.7 139.4 871.8C136.5 876.9 132.9 882.6 129.2 888.1C125.5 893.6 120.7 899.4 117 904.5C113.3 909.6 109.6 915 106.8 918.8C104 922.6 101.9 925.1 100.2 927.4C98.5 929.7 97.1 931.6 96.5 932.5L28.2 932.4Z" fill="#7da7d9"/>
<path class="c" d="M28 774.5C28.9 774.6 29.6 774.7 33.2 775.2C36.8 775.8 43.4 776.5 49.5 777.8C55.6 779.1 63.2 780.8 70 782.9C76.8 785 83.6 787.4 90.4 790.1C97.2 792.8 104.7 796.2 110.8 799.3C116.9 802.4 122.4 805.3 127.2 808.5C132 811.7 136 815.1 139.4 818.7C142.8 822.3 145.8 826.4 147.6 829.9C149.4 833.4 150.1 837 150.5 840C150.9 843 150.8 845.1 150.1 848C149.4 850.9 148.4 853.5 146.6 857.5C144.8 861.5 142.3 866.7 139.4 871.8C136.5 876.9 132.9 882.6 129.2 888.1C125.5 893.6 120.7 899.4 117 904.5C113.3 909.6 109.6 915 106.8 918.8C104 922.6 101.9 925.1 100.2 927.4C98.5 929.7 97.1 931.6 96.5 932.5"/>
<path d="M28 792.5C28.9 792.8 30.3 793.2 33.2 794.2C36.1 795.2 41 796.3 45.4 798.2C49.8 800.1 54.9 802.5 59.7 805.4C64.5 808.3 69.6 811.9 74 815.6C78.4 819.4 82.9 824.1 86.3 827.9C89.7 831.6 92.5 834.9 94.5 838.1C96.5 841.3 97.6 843.7 98.6 847.3C99.5 850.9 100.2 855.1 100.2 859.5C100.2 863.9 99.7 868.7 98.6 873.8C97.5 878.9 95.7 884.8 93.5 890.2C91.3 895.7 88 901.4 85.3 906.5C82.6 911.6 79.1 917.3 77.1 920.8C75 924.3 74.2 925.4 73 927.4C71.8 929.4 70.5 931.6 70 932.5L28.2 932.4Z" fill="#1014e4"/>
<path class="c" d="M28 792.5C28.9 792.8 30.3 793.2 33.2 794.2C36.1 795.2 41 796.3 45.4 798.2C49.8 800.1 54.9 802.5 59.7 805.4C64.5 808.3 69.6 811.9 74 815.6C78.4 819.4 82.9 824.1 86.3 827.9C89.7 831.6 92.5 834.9 94.5 838.1C96.5 841.3 97.6 843.7 98.6 847.3C99.5 850.9 100.2 855.1 100.2 859.5C100.2 863.9 99.7 868.7 98.6 873.8C97.5 878.9 95.7 884.8 93.5 890.2C91.3 895.7 88 901.4 85.3 906.5C82.6 911.6 79.1 917.3 77.1 920.8C75 924.3 74.2 925.4 73 927.4C71.8 929.4 70.5 931.6 70 932.5"/>
<path d="M28 815.5C28.9 816 31 817.3 33.2 818.7C35.4 820.1 38.6 821.6 41.3 823.8C44 826 47.1 829.3 49.5 832C51.9 834.7 53.9 837.4 55.7 840.1C57.5 842.8 59 844.4 60.5 848C62 851.6 63.7 857 64.4 861.6C65.1 866.2 65.2 870.8 64.9 875.9C64.6 881 64 886.4 62.8 892.2C61.6 898 59.8 904.7 57.7 910.6C55.7 916.5 52 923.8 50.5 927.4C49 931 48.8 931.6 48.5 932.5L28.2 932.4Z" fill="#0a0872"/>
<path class="c" d="M28 815.5C28.9 816 31 817.3 33.2 818.7C35.4 820.1 38.6 821.6 41.3 823.8C44 826 47.1 829.3 49.5 832C51.9 834.7 53.9 837.4 55.7 840.1C57.5 842.8 59 844.4 60.5 848C62 851.6 63.7 857 64.4 861.6C65.1 866.2 65.2 870.8 64.9 875.9C64.6 881 64 886.4 62.8 892.2C61.6 898 59.8 904.7 57.7 910.6C55.7 916.5 52 923.8 50.5 927.4C49 931 48.8 931.6 48.5 932.5"/>
<path d="M126 932.5C127 931.6 129 930 132.3 927.4C135.6 924.8 141.7 920.1 145.6 916.8C149.5 913.4 152.2 910.4 155.8 907.3C159.4 904.2 163 901.6 167.3 898.4C171.6 895.2 176.8 891.4 181.6 888.1C186.4 884.9 190.8 881.9 195.9 878.9C201 875.9 206.8 872.7 212.2 870.2C217.6 867.7 223.1 865.6 228.6 864C234.1 862.4 239.4 861.4 244.9 860.8C250.4 860.1 256.5 860 261.3 860.1C266.1 860.2 269.9 860.7 273.5 861.2C277.1 861.7 280.3 862.7 282.7 863.2C285.1 863.8 287.1 864.3 288 864.5L287.7 932.4Z" fill="#008320"/>
<path class="c" d="M126 932.5C127 931.6 129 930 132.3 927.4C135.6 924.8 141.7 920.1 145.6 916.8C149.5 913.4 152.2 910.4 155.8 907.3C159.4 904.2 163 901.6 167.3 898.4C171.6 895.2 176.8 891.4 181.6 888.1C186.4 884.9 190.8 881.9 195.9 878.9C201 875.9 206.8 872.7 212.2 870.2C217.6 867.7 223.1 865.6 228.6 864C234.1 862.4 239.4 861.4 244.9 860.8C250.4 860.1 256.5 860 261.3 860.1C266.1 860.2 269.9 860.7 273.5 861.2C277.1 861.7 280.3 862.7 282.7 863.2C285.1 863.8 287.1 864.3 288 864.5"/>
<path d="M166 932.5C167.8 931.6 172.9 929.2 176.5 927.4C180.1 925.6 183.4 923.8 187.7 921.9C191.9 920 197.2 917.5 202 915.7C206.8 913.9 211.2 912.3 216.3 911C221.4 909.7 227.2 908.5 232.7 907.8C238.1 907 243.6 906.6 249 906.5C254.4 906.4 259.8 906.6 265.4 907.1C271 907.6 278.9 909 282.7 909.6C286.5 910.2 287.1 910.4 288 910.5L287.7 932.4Z" fill="#044d14"/>
<path class="c" d="M166 932.5C167.8 931.6 172.9 929.2 176.5 927.4C180.1 925.6 183.4 923.8 187.7 921.9C191.9 920 197.2 917.5 202 915.7C206.8 913.9 211.2 912.3 216.3 911C221.4 909.7 227.2 908.5 232.7 907.8C238.1 907 243.6 906.6 249 906.5C254.4 906.4 259.8 906.6 265.4 907.1C271 907.6 278.9 909 282.7 909.6C286.5 910.2 287.1 910.4 288 910.5"/>
</g>
<path d="M33.2 927.4v1.6M95.6 927.4v1.6M157.9 927.4v1.6M220.3 927.4v1.6M282.7 927.4v1.6M33.2 746.7h-1.6M33.2 776.8h-1.6M33.2 806.9h-1.6M33.2 837h-1.6M33.2 867.2h-1.6M33.2 897.3h-1.6M33.2 927.4h-1.6" fill="none" stroke="#888" stroke-width=".6"/>
<text x="33.2" y="936.7" font-size="6.1" text-anchor="middle">4</text>
<text x="95.6" y="936.7" font-size="6.1" text-anchor="middle">5</text>
<text x="157.9" y="936.7" font-size="6.1" text-anchor="middle">6</text>
<text x="220.3" y="936.7" font-size="6.1" text-anchor="middle">7</text>
<text x="282.7" y="936.7" font-size="6.1" text-anchor="middle">8</text>
<text x="30.1" y="749.5" font-size="6.1" text-anchor="end">1800</text>
<text x="30.1" y="779.6" font-size="6.1" text-anchor="end">1600</text>
<text x="30.1" y="809.7" font-size="6.1" text-anchor="end">1400</text>
<text x="30.1" y="839.8" font-size="6.1" text-anchor="end">1200</text>
<text x="30.1" y="870" font-size="6.1" text-anchor="end">1000</text>
<text x="30.1" y="900.1" font-size="6.1" text-anchor="end">800</text>
<text x="30.1" y="930.2" font-size="6.1" text-anchor="end">600</text>
<text x="157.9" y="948.9" font-size="7.8" text-anchor="middle" textLength="82.8" lengthAdjust="spacingAndGlyphs">Drill Bit Diameter (mm)</text>
<text transform="translate(10.1 837) rotate(-90)" font-size="7.8" text-anchor="middle" textLength="75.6" lengthAdjust="spacingAndGlyphs">Spindle Speed (rpm)</text>
<text x="172.8" y="735" font-size="8.8" text-anchor="middle" textLength="58.5" lengthAdjust="spacingAndGlyphs" style="white-space:pre">Df  Entry : GT3</text>
<text class="lab" x="0.5" y="734" font-size="19">(g)</text>
<text x="320.8" y="755.6" font-size="5.8" text-anchor="middle" textLength="22.5" lengthAdjust="spacingAndGlyphs">Df Entry</text>
<rect x="293.4" y="758" width="6.3" height="5.4" fill="#044d14"/>
<text x="320.5" y="762.7" font-size="5.5" text-anchor="middle">&lt;</text>
<text x="338" y="762.7" font-size="5.5" text-anchor="end">1.18</text>
<rect x="293.4" y="765.9" width="6.3" height="5.4" fill="#008320"/>
<text x="320.5" y="770.6" font-size="5.5" text-anchor="middle">–</text>
<text x="315.2" y="770.6" font-size="5.5" text-anchor="end">1.18</text>
<text x="338" y="770.6" font-size="5.5" text-anchor="end">1.20</text>
<rect x="293.4" y="773.8" width="6.3" height="5.4" fill="#82cd8f"/>
<text x="320.5" y="778.5" font-size="5.5" text-anchor="middle">–</text>
<text x="315.2" y="778.5" font-size="5.5" text-anchor="end">1.20</text>
<text x="338" y="778.5" font-size="5.5" text-anchor="end">1.22</text>
<rect x="293.4" y="781.7" width="6.3" height="5.4" fill="#7da7d9"/>
<text x="320.5" y="786.4" font-size="5.5" text-anchor="middle">–</text>
<text x="315.2" y="786.4" font-size="5.5" text-anchor="end">1.22</text>
<text x="338" y="786.4" font-size="5.5" text-anchor="end">1.24</text>
<rect x="293.4" y="789.6" width="6.3" height="5.4" fill="#1014e4"/>
<text x="320.5" y="794.3" font-size="5.5" text-anchor="middle">–</text>
<text x="315.2" y="794.3" font-size="5.5" text-anchor="end">1.24</text>
<text x="338" y="794.3" font-size="5.5" text-anchor="end">1.26</text>
<rect x="293.4" y="797.5" width="6.3" height="5.4" fill="#0a0872"/>
<text x="320.5" y="802.2" font-size="5.5" text-anchor="middle">&gt;</text>
<text x="338" y="802.2" font-size="5.5" text-anchor="end">1.26</text>
<clipPath id="k7"><rect x="373.2" y="743.7" width="244.4" height="182.9"/></clipPath>
<g clip-path="url(#k7)">
<rect x="373.2" y="743.7" width="244.4" height="182.9" fill="#245fe4"/>
<path d="M368 806.5C368.9 806 370.6 805.2 373.2 803.8C375.8 802.4 379.6 800.6 383.4 798.3C387.1 796 391.6 793.3 395.7 790.1C399.8 786.9 403.8 783 407.9 778.9C412 774.8 416.1 769.9 420.2 765.6C424.3 761.3 428.5 756.9 432.4 753.3C436.3 749.6 440.8 746.2 443.7 743.7C446.6 741.2 448.9 739.4 450 738.5L368.2 738.7Z" fill="#1014e4"/>
<path class="c" d="M368 806.5C368.9 806 370.6 805.2 373.2 803.8C375.8 802.4 379.6 800.6 383.4 798.3C387.1 796 391.6 793.3 395.7 790.1C399.8 786.9 403.8 783 407.9 778.9C412 774.8 416.1 769.9 420.2 765.6C424.3 761.3 428.5 756.9 432.4 753.3C436.3 749.6 440.8 746.2 443.7 743.7C446.6 741.2 448.9 739.4 450 738.5"/>
<path d="M369 763C369.7 762.2 371.5 760.4 373.2 758.4C374.9 756.4 377.4 753.8 379.3 751.3C381.2 748.8 383.4 745.8 384.8 743.7C386.2 741.7 387.5 739.8 388 739L368.2 738.7Z" fill="#0e0cac"/>
<path class="c" d="M369 763C369.7 762.2 371.5 760.4 373.2 758.4C374.9 756.4 377.4 753.8 379.3 751.3C381.2 748.8 383.4 745.8 384.8 743.7C386.2 741.7 387.5 739.8 388 739"/>
<path d="M457 932C457.4 931.1 458 929.5 459.4 926.6C460.8 923.7 462.8 918.6 465.1 914.7C467.4 910.9 470.2 906.9 473.3 903.5C476.4 900.1 479.8 897 483.5 894.3C487.2 891.6 491.8 889 495.4 887.2C499 885.4 501.2 884.6 505.2 883.7C509.2 882.8 514.7 881.9 519.5 882C524.3 882.1 529.4 882.7 533.8 884.1C538.2 885.5 542.4 887.7 546.1 890.2C549.9 892.8 553.4 896 556.3 899.4C559.2 902.8 561.6 907.1 563.5 910.7C565.4 914.3 566.7 918.2 567.6 920.9C568.5 923.5 568.6 924.8 569 926.6C569.4 928.5 569.8 931.1 570 932Z" fill="#1014e4"/>
<path class="c" d="M457 932C457.4 931.1 458 929.5 459.4 926.6C460.8 923.7 462.8 918.6 465.1 914.7C467.4 910.9 470.2 906.9 473.3 903.5C476.4 900.1 479.8 897 483.5 894.3C487.2 891.6 491.8 889 495.4 887.2C499 885.4 501.2 884.6 505.2 883.7C509.2 882.8 514.7 881.9 519.5 882C524.3 882.1 529.4 882.7 533.8 884.1C538.2 885.5 542.4 887.7 546.1 890.2C549.9 892.8 553.4 896 556.3 899.4C559.2 902.8 561.6 907.1 563.5 910.7C565.4 914.3 566.7 918.2 567.6 920.9C568.5 923.5 568.6 924.8 569 926.6C569.4 928.5 569.8 931.1 570 932"/>
<path d="M594.5 932C594.7 931.1 594.8 929.8 595.6 926.6C596.4 923.4 597.6 917.7 599.2 912.7C600.8 907.7 603.4 901.2 605.4 896.4C607.4 891.6 609.5 887.7 611.5 884.1C613.5 880.5 616 877.2 617.6 874.9C619.2 872.5 620.4 870.8 621 870L622.6 931.6Z" fill="#7da7d9"/>
<path class="c" d="M594.5 932C594.7 931.1 594.8 929.8 595.6 926.6C596.4 923.4 597.6 917.7 599.2 912.7C600.8 907.7 603.4 901.2 605.4 896.4C607.4 891.6 609.5 887.7 611.5 884.1C613.5 880.5 616 877.2 617.6 874.9C619.2 872.5 620.4 870.8 621 870"/>
<path d="M615.8 929C616 928.3 616.3 926.2 616.8 925C617.3 923.8 618.6 922.1 619 921.5L622.6 931.6Z" fill="#82cd8f"/>
<path class="c" d="M615.8 929C616 928.3 616.3 926.2 616.8 925C617.3 923.8 618.6 922.1 619 921.5"/>
<path d="M368 836.5C368.9 836.6 369.9 836.6 373.2 837.2C376.4 837.8 382.7 838.9 387.5 840.2C392.3 841.6 397.4 843.3 401.8 845.3C406.2 847.3 410.4 849.7 414 852.4C417.6 855.1 420.6 858 423.2 861.6C425.8 865.2 427.9 869.5 429.4 873.9C430.9 878.3 431.4 883.1 432 888.2C432.6 893.3 432.7 898.1 432.9 904.5C433.1 910.9 433.1 922 433.1 926.6C433.2 931.2 433.2 931.1 433.2 932L368.2 931.6Z" fill="#7da7d9"/>
<path class="c" d="M368 836.5C368.9 836.6 369.9 836.6 373.2 837.2C376.4 837.8 382.7 838.9 387.5 840.2C392.3 841.6 397.4 843.3 401.8 845.3C406.2 847.3 410.4 849.7 414 852.4C417.6 855.1 420.6 858 423.2 861.6C425.8 865.2 427.9 869.5 429.4 873.9C430.9 878.3 431.4 883.1 432 888.2C432.6 893.3 432.7 898.1 432.9 904.5C433.1 910.9 433.1 922 433.1 926.6C433.2 931.2 433.2 931.1 433.2 932"/>
<path d="M368 861.5C368.9 862 370.6 863 373.2 864.7C375.8 866.4 380 868.9 383.4 871.8C386.8 874.7 390.4 877.9 393.6 882C396.8 886.1 400.2 891.6 402.8 896.4C405.4 901.2 407.2 906.3 408.9 910.7C410.6 915.1 412.1 920.2 413 922.9C413.9 925.5 413.7 925.1 414 926.6C414.3 928.1 414.8 931.1 415 932L368.2 931.6Z" fill="#82cd8f"/>
<path class="c" d="M368 861.5C368.9 862 370.6 863 373.2 864.7C375.8 866.4 380 868.9 383.4 871.8C386.8 874.7 390.4 877.9 393.6 882C396.8 886.1 400.2 891.6 402.8 896.4C405.4 901.2 407.2 906.3 408.9 910.7C410.6 915.1 412.1 920.2 413 922.9C413.9 925.5 413.7 925.1 414 926.6C414.3 928.1 414.8 931.1 415 932"/>
<path d="M368 883.5C368.9 884.3 371 886.1 373.2 888.2C375.4 890.4 378.6 893 381.3 896.4C384 899.8 387.1 904.5 389.5 908.6C391.9 912.7 394.3 917.9 395.7 920.9C397.1 923.9 397.1 924.8 397.7 926.6C398.2 928.5 398.8 931.1 399 932L368.2 931.6Z" fill="#008320"/>
<path class="c" d="M368 883.5C368.9 884.3 371 886.1 373.2 888.2C375.4 890.4 378.6 893 381.3 896.4C384 899.8 387.1 904.5 389.5 908.6C391.9 912.7 394.3 917.9 395.7 920.9C397.1 923.9 397.1 924.8 397.7 926.6C398.2 928.5 398.8 931.1 399 932"/>
<path d="M369 905C369.7 905.8 371.6 907.8 373.2 909.6C374.8 911.4 376.8 913.6 378.3 915.8C379.8 918 381.4 921.1 382.4 922.9C383.4 924.7 383.6 925.1 384.4 926.6C385.2 928.1 386.6 931.1 387 932L368.2 931.6Z" fill="#044d14"/>
<path class="c" d="M369 905C369.7 905.8 371.6 907.8 373.2 909.6C374.8 911.4 376.8 913.6 378.3 915.8C379.8 918 381.4 921.1 382.4 922.9C383.4 924.7 383.6 925.1 384.4 926.6C385.2 928.1 386.6 931.1 387 932"/>
</g>
<path d="M373.2 926.6v1.6M434.3 926.6v1.6M495.4 926.6v1.6M556.5 926.6v1.6M617.6 926.6v1.6M373.2 743.7h-1.6M373.2 774.2h-1.6M373.2 804.7h-1.6M373.2 835.2h-1.6M373.2 865.6h-1.6M373.2 896.1h-1.6M373.2 926.6h-1.6" fill="none" stroke="#888" stroke-width=".6"/>
<text x="373.2" y="935.9" font-size="6.1" text-anchor="middle">4</text>
<text x="434.3" y="935.9" font-size="6.1" text-anchor="middle">5</text>
<text x="495.4" y="935.9" font-size="6.1" text-anchor="middle">6</text>
<text x="556.5" y="935.9" font-size="6.1" text-anchor="middle">7</text>
<text x="617.6" y="935.9" font-size="6.1" text-anchor="middle">8</text>
<text x="370.1" y="746.5" font-size="6.1" text-anchor="end">1800</text>
<text x="370.1" y="777" font-size="6.1" text-anchor="end">1600</text>
<text x="370.1" y="807.5" font-size="6.1" text-anchor="end">1400</text>
<text x="370.1" y="838" font-size="6.1" text-anchor="end">1200</text>
<text x="370.1" y="868.4" font-size="6.1" text-anchor="end">1000</text>
<text x="370.1" y="898.9" font-size="6.1" text-anchor="end">800</text>
<text x="370.1" y="929.4" font-size="6.1" text-anchor="end">600</text>
<text x="495.4" y="948.1" font-size="7.8" text-anchor="middle" textLength="82.8" lengthAdjust="spacingAndGlyphs">Drill Bit Diameter (mm)</text>
<text transform="translate(350.1 835.2) rotate(-90)" font-size="7.8" text-anchor="middle" textLength="75.6" lengthAdjust="spacingAndGlyphs">Spindle Speed (rpm)</text>
<text x="512.8" y="732" font-size="8.8" text-anchor="middle" textLength="52.5" lengthAdjust="spacingAndGlyphs" style="white-space:pre">Df  Exit : GT3</text>
<text class="lab" x="342.5" y="735" font-size="19">(h)</text>
<text x="660.2" y="752.5" font-size="5.8" text-anchor="middle" textLength="18.5" lengthAdjust="spacingAndGlyphs">Df Exit</text>
<rect x="628.8" y="754.9" width="6.3" height="5.4" fill="#044d14"/>
<text x="659.7" y="759.6" font-size="5.5" text-anchor="middle">&lt;</text>
<text x="680.4" y="759.6" font-size="5.5" text-anchor="end">1.100</text>
<rect x="628.8" y="762.8" width="6.3" height="5.4" fill="#008320"/>
<text x="659.7" y="767.5" font-size="5.5" text-anchor="middle">–</text>
<text x="654.1" y="767.5" font-size="5.5" text-anchor="end">1.100</text>
<text x="680.4" y="767.5" font-size="5.5" text-anchor="end">1.125</text>
<rect x="628.8" y="770.7" width="6.3" height="5.4" fill="#82cd8f"/>
<text x="659.7" y="775.4" font-size="5.5" text-anchor="middle">–</text>
<text x="654.1" y="775.4" font-size="5.5" text-anchor="end">1.125</text>
<text x="680.4" y="775.4" font-size="5.5" text-anchor="end">1.150</text>
<rect x="628.8" y="778.6" width="6.3" height="5.4" fill="#7da7d9"/>
<text x="659.7" y="783.3" font-size="5.5" text-anchor="middle">–</text>
<text x="654.1" y="783.3" font-size="5.5" text-anchor="end">1.150</text>
<text x="680.4" y="783.3" font-size="5.5" text-anchor="end">1.175</text>
<rect x="628.8" y="786.5" width="6.3" height="5.4" fill="#245fe4"/>
<text x="659.7" y="791.2" font-size="5.5" text-anchor="middle">–</text>
<text x="654.1" y="791.2" font-size="5.5" text-anchor="end">1.175</text>
<text x="680.4" y="791.2" font-size="5.5" text-anchor="end">1.200</text>
<rect x="628.8" y="794.4" width="6.3" height="5.4" fill="#1014e4"/>
<text x="659.7" y="799" font-size="5.5" text-anchor="middle">–</text>
<text x="654.1" y="799" font-size="5.5" text-anchor="end">1.200</text>
<text x="680.4" y="799" font-size="5.5" text-anchor="end">1.225</text>
<rect x="628.8" y="802.2" width="6.3" height="5.4" fill="#0e0cac"/>
<text x="659.7" y="806.9" font-size="5.5" text-anchor="middle">&gt;</text>
<text x="680.4" y="806.9" font-size="5.5" text-anchor="end">1.225</text>
<clipPath id="k8"><rect x="31.8" y="984.1" width="243.2" height="182.3"/></clipPath>
<g clip-path="url(#k8)">
<rect x="31.8" y="984.1" width="243.2" height="182.3" fill="#52b05a"/>
<path d="M26 989.7C27 989.8 27.7 989.9 31.8 990.3C35.9 990.7 44.1 991.7 50.6 992.3C57.1 992.9 64.2 993.7 71 993.9C77.8 994.1 84.7 994 91.5 993.7C98.3 993.4 105.1 992.9 111.9 992.3C118.7 991.7 125.7 991 132.4 990.3C139.2 989.5 147.1 988.5 152.4 987.8C157.7 987.1 160.3 986.8 164.3 986.2C168.3 985.6 172.2 984.9 176.5 984.1C180.8 983.3 187.8 981.9 190 981.5L26.8 979.1Z" fill="#82cd8f"/>
<path class="c" d="M26 989.7C27 989.8 27.7 989.9 31.8 990.3C35.9 990.7 44.1 991.7 50.6 992.3C57.1 992.9 64.2 993.7 71 993.9C77.8 994.1 84.7 994 91.5 993.7C98.3 993.4 105.1 992.9 111.9 992.3C118.7 991.7 125.7 991 132.4 990.3C139.2 989.5 147.1 988.5 152.4 987.8C157.7 987.1 160.3 986.8 164.3 986.2C168.3 985.6 172.2 984.9 176.5 984.1C180.8 983.3 187.8 981.9 190 981.5"/>
<path d="M133.3 1172C132.8 1171.1 131.5 1168.6 130.3 1166.4C129.1 1164.2 128.2 1162.5 126.2 1158.8C124.2 1155.1 121.2 1150 118.1 1144.5C115 1139 111.5 1132.6 107.8 1126.1C104 1119.6 99.3 1112.2 95.6 1105.7C91.9 1099.2 88 1092.4 85.4 1087.3C82.8 1082.2 81.3 1078.7 80 1075C78.7 1071.3 77.7 1067.8 77.3 1065C76.9 1062.2 77.1 1060.4 77.8 1058.5C78.5 1056.6 79.4 1055.3 81.3 1053.6C83.2 1051.9 85.7 1050.2 89.4 1048.5C93.1 1046.8 97.9 1045.3 103.7 1043.4C109.5 1041.5 117.4 1039.3 124.2 1037.3C131 1035.2 139.1 1032.7 144.6 1031.1C150.1 1029.5 152.4 1028.9 157 1027.6C161.6 1026.2 166.4 1024.8 172.4 1023C178.4 1021.2 186.1 1019 192.9 1016.8C199.7 1014.6 206.5 1012.2 213.3 1009.7C220.1 1007.2 227 1004.4 233.8 1001.5C240.6 998.6 248.1 995.1 254.2 992.3C260.3 989.5 266.2 986.5 270.5 984.5C274.8 982.5 278.4 980.8 280 980L280 1171.4Z" fill="#008320"/>
<path class="c" d="M133.3 1172C132.8 1171.1 131.5 1168.6 130.3 1166.4C129.1 1164.2 128.2 1162.5 126.2 1158.8C124.2 1155.1 121.2 1150 118.1 1144.5C115 1139 111.5 1132.6 107.8 1126.1C104 1119.6 99.3 1112.2 95.6 1105.7C91.9 1099.2 88 1092.4 85.4 1087.3C82.8 1082.2 81.3 1078.7 80 1075C78.7 1071.3 77.7 1067.8 77.3 1065C76.9 1062.2 77.1 1060.4 77.8 1058.5C78.5 1056.6 79.4 1055.3 81.3 1053.6C83.2 1051.9 85.7 1050.2 89.4 1048.5C93.1 1046.8 97.9 1045.3 103.7 1043.4C109.5 1041.5 117.4 1039.3 124.2 1037.3C131 1035.2 139.1 1032.7 144.6 1031.1C150.1 1029.5 152.4 1028.9 157 1027.6C161.6 1026.2 166.4 1024.8 172.4 1023C178.4 1021.2 186.1 1019 192.9 1016.8C199.7 1014.6 206.5 1012.2 213.3 1009.7C220.1 1007.2 227 1004.4 233.8 1001.5C240.6 998.6 248.1 995.1 254.2 992.3C260.3 989.5 266.2 986.5 270.5 984.5C274.8 982.5 278.4 980.8 280 980"/>
<path d="M183.5 1172C182.8 1171.1 181.1 1168.6 179.6 1166.4C178.1 1164.2 176.4 1162.5 174.5 1158.8C172.6 1155.1 170.1 1149.3 168.4 1144.5C166.7 1139.7 165.2 1135 164.3 1130.2C163.4 1125.4 162.9 1120.3 163.2 1115.9C163.5 1111.5 164.4 1107.6 166.3 1103.7C168.2 1099.8 170.8 1096.1 174.5 1092.4C178.2 1088.7 184 1084.8 188.8 1081.7C193.6 1078.6 198 1076.6 203.1 1073.6C208.2 1070.6 213.9 1067.1 219.4 1063.8C224.9 1060.5 230.4 1057 235.8 1053.6C241.2 1050.2 247 1046.6 252.1 1043.4C257.2 1040.2 262.6 1036.8 266.4 1034.2C270.2 1031.7 272.6 1029.8 275 1028.1C277.4 1026.4 280 1024.7 281 1024L280 1171.4Z" fill="#026802"/>
<path class="c" d="M183.5 1172C182.8 1171.1 181.1 1168.6 179.6 1166.4C178.1 1164.2 176.4 1162.5 174.5 1158.8C172.6 1155.1 170.1 1149.3 168.4 1144.5C166.7 1139.7 165.2 1135 164.3 1130.2C163.4 1125.4 162.9 1120.3 163.2 1115.9C163.5 1111.5 164.4 1107.6 166.3 1103.7C168.2 1099.8 170.8 1096.1 174.5 1092.4C178.2 1088.7 184 1084.8 188.8 1081.7C193.6 1078.6 198 1076.6 203.1 1073.6C208.2 1070.6 213.9 1067.1 219.4 1063.8C224.9 1060.5 230.4 1057 235.8 1053.6C241.2 1050.2 247 1046.6 252.1 1043.4C257.2 1040.2 262.6 1036.8 266.4 1034.2C270.2 1031.7 272.6 1029.8 275 1028.1C277.4 1026.4 280 1024.7 281 1024"/>
<path d="M281 1115.6C280 1116.5 278.1 1118.2 275 1121C271.9 1123.8 266.9 1128.2 262.4 1132.3C257.9 1136.4 252.9 1141 248.1 1145.6C243.3 1150.2 237.4 1156.4 233.8 1159.9C230.2 1163.4 228.8 1164.4 226.6 1166.4C224.4 1168.4 221.5 1171.1 220.5 1172L280 1171.4Z" fill="#008320"/>
<path class="c" d="M281 1115.6C280 1116.5 278.1 1118.2 275 1121C271.9 1123.8 266.9 1128.2 262.4 1132.3C257.9 1136.4 252.9 1141 248.1 1145.6C243.3 1150.2 237.4 1156.4 233.8 1159.9C230.2 1163.4 228.8 1164.4 226.6 1166.4C224.4 1168.4 221.5 1171.1 220.5 1172"/>
<path d="M26 1088.5C27 1089.1 28.7 1090.2 31.8 1092C34.9 1093.8 40 1096.5 44.5 1099.6C49 1102.7 54 1106.4 58.8 1110.8C63.6 1115.2 68.7 1120.8 73.1 1126.1C77.5 1131.4 81.7 1137.4 85.4 1142.5C89.2 1147.6 92.8 1152.8 95.6 1156.8C98.4 1160.8 100.4 1163.9 102.1 1166.4C103.8 1168.9 105.3 1171.1 106 1172L26.8 1171.4Z" fill="#82cd8f"/>
<path class="c" d="M26 1088.5C27 1089.1 28.7 1090.2 31.8 1092C34.9 1093.8 40 1096.5 44.5 1099.6C49 1102.7 54 1106.4 58.8 1110.8C63.6 1115.2 68.7 1120.8 73.1 1126.1C77.5 1131.4 81.7 1137.4 85.4 1142.5C89.2 1147.6 92.8 1152.8 95.6 1156.8C98.4 1160.8 100.4 1163.9 102.1 1166.4C103.8 1168.9 105.3 1171.1 106 1172"/>
<path d="M26 1112C27 1112.7 29.1 1114.3 31.8 1116.3C34.5 1118.3 38.6 1120.9 42.4 1124.1C46.2 1127.3 51 1131.5 54.7 1135.3C58.5 1139 61.7 1142.7 64.9 1146.6C68.1 1150.5 71.7 1155.5 74.1 1158.8C76.5 1162.1 77.7 1164.2 79.2 1166.4C80.7 1168.6 82.4 1171.1 83 1172L26.8 1171.4Z" fill="#7da7d9"/>
<path class="c" d="M26 1112C27 1112.7 29.1 1114.3 31.8 1116.3C34.5 1118.3 38.6 1120.9 42.4 1124.1C46.2 1127.3 51 1131.5 54.7 1135.3C58.5 1139 61.7 1142.7 64.9 1146.6C68.1 1150.5 71.7 1155.5 74.1 1158.8C76.5 1162.1 77.7 1164.2 79.2 1166.4C80.7 1168.6 82.4 1171.1 83 1172"/>
<path d="M26 1132.3C27 1133 29.4 1134.7 31.8 1136.4C34.2 1138.1 37.6 1140.1 40.4 1142.5C43.2 1144.9 45.9 1147.8 48.6 1150.7C51.3 1153.6 54.5 1157.3 56.7 1159.9C58.9 1162.5 60.4 1164.4 61.9 1166.4C63.4 1168.4 65.3 1171.1 66 1172L26.8 1171.4Z" fill="#245fe4"/>
<path class="c" d="M26 1132.3C27 1133 29.4 1134.7 31.8 1136.4C34.2 1138.1 37.6 1140.1 40.4 1142.5C43.2 1144.9 45.9 1147.8 48.6 1150.7C51.3 1153.6 54.5 1157.3 56.7 1159.9C58.9 1162.5 60.4 1164.4 61.9 1166.4C63.4 1168.4 65.3 1171.1 66 1172"/>
<path d="M26 1146.2C27 1147 29.9 1149.5 31.8 1151.1C33.7 1152.7 35.3 1154 37.3 1155.8C39.2 1157.6 41.9 1160.1 43.5 1161.9C45.1 1163.7 45.8 1164.7 47.1 1166.4C48.4 1168.1 50.8 1171.1 51.5 1172L26.8 1171.4Z" fill="#1014e4"/>
<path class="c" d="M26 1146.2C27 1147 29.9 1149.5 31.8 1151.1C33.7 1152.7 35.3 1154 37.3 1155.8C39.2 1157.6 41.9 1160.1 43.5 1161.9C45.1 1163.7 45.8 1164.7 47.1 1166.4C48.4 1168.1 50.8 1171.1 51.5 1172"/>
</g>
<path d="M31.8 1166.4v1.6M92.6 1166.4v1.6M153.4 1166.4v1.6M214.2 1166.4v1.6M275 1166.4v1.6M31.8 984.1h-1.6M31.8 1014.5h-1.6M31.8 1044.9h-1.6M31.8 1075.2h-1.6M31.8 1105.6h-1.6M31.8 1136h-1.6M31.8 1166.4h-1.6" fill="none" stroke="#888" stroke-width=".6"/>
<text x="31.8" y="1175.7" font-size="6.1" text-anchor="middle">4</text>
<text x="92.6" y="1175.7" font-size="6.1" text-anchor="middle">5</text>
<text x="153.4" y="1175.7" font-size="6.1" text-anchor="middle">6</text>
<text x="214.2" y="1175.7" font-size="6.1" text-anchor="middle">7</text>
<text x="275" y="1175.7" font-size="6.1" text-anchor="middle">8</text>
<text x="28.7" y="986.9" font-size="6.1" text-anchor="end">1800</text>
<text x="28.7" y="1017.3" font-size="6.1" text-anchor="end">1600</text>
<text x="28.7" y="1047.7" font-size="6.1" text-anchor="end">1400</text>
<text x="28.7" y="1078" font-size="6.1" text-anchor="end">1200</text>
<text x="28.7" y="1108.4" font-size="6.1" text-anchor="end">1000</text>
<text x="28.7" y="1138.8" font-size="6.1" text-anchor="end">800</text>
<text x="28.7" y="1169.2" font-size="6.1" text-anchor="end">600</text>
<text x="153.4" y="1187.9" font-size="7.8" text-anchor="middle" textLength="82.8" lengthAdjust="spacingAndGlyphs">Drill Bit Diameter (mm)</text>
<text transform="translate(8.7 1075.2) rotate(-90)" font-size="7.8" text-anchor="middle" textLength="75.6" lengthAdjust="spacingAndGlyphs">Spindle Speed (rpm)</text>
<text x="172.8" y="972.2" font-size="8.8" text-anchor="middle" textLength="58.5" lengthAdjust="spacingAndGlyphs" style="white-space:pre">Df  Entry : GT4</text>
<text class="lab" x="3.5" y="976" font-size="19">(i)</text>
<text x="317.5" y="993" font-size="5.8" text-anchor="middle" textLength="22.5" lengthAdjust="spacingAndGlyphs">Df Entry</text>
<rect x="286.3" y="995.4" width="6.3" height="5.4" fill="#026802"/>
<text x="317.2" y="1000.1" font-size="5.5" text-anchor="middle">&lt;</text>
<text x="338.2" y="1000.1" font-size="5.5" text-anchor="end">1.250</text>
<rect x="286.3" y="1003.2" width="6.3" height="5.4" fill="#008320"/>
<text x="317.2" y="1007.9" font-size="5.5" text-anchor="middle">–</text>
<text x="311.8" y="1007.9" font-size="5.5" text-anchor="end">1.250</text>
<text x="338.2" y="1007.9" font-size="5.5" text-anchor="end">1.275</text>
<rect x="286.3" y="1011.1" width="6.3" height="5.4" fill="#52b05a"/>
<text x="317.2" y="1015.8" font-size="5.5" text-anchor="middle">–</text>
<text x="311.8" y="1015.8" font-size="5.5" text-anchor="end">1.275</text>
<text x="338.2" y="1015.8" font-size="5.5" text-anchor="end">1.300</text>
<rect x="286.3" y="1018.9" width="6.3" height="5.4" fill="#82cd8f"/>
<text x="317.2" y="1023.6" font-size="5.5" text-anchor="middle">–</text>
<text x="311.8" y="1023.6" font-size="5.5" text-anchor="end">1.300</text>
<text x="338.2" y="1023.6" font-size="5.5" text-anchor="end">1.325</text>
<rect x="286.3" y="1026.8" width="6.3" height="5.4" fill="#7da7d9"/>
<text x="317.2" y="1031.5" font-size="5.5" text-anchor="middle">–</text>
<text x="311.8" y="1031.5" font-size="5.5" text-anchor="end">1.325</text>
<text x="338.2" y="1031.5" font-size="5.5" text-anchor="end">1.350</text>
<rect x="286.3" y="1034.6" width="6.3" height="5.4" fill="#245fe4"/>
<text x="317.2" y="1039.3" font-size="5.5" text-anchor="middle">–</text>
<text x="311.8" y="1039.3" font-size="5.5" text-anchor="end">1.350</text>
<text x="338.2" y="1039.3" font-size="5.5" text-anchor="end">1.375</text>
<rect x="286.3" y="1042.4" width="6.3" height="5.4" fill="#1014e4"/>
<text x="317.2" y="1047.1" font-size="5.5" text-anchor="middle">–</text>
<text x="311.8" y="1047.1" font-size="5.5" text-anchor="end">1.375</text>
<text x="338.2" y="1047.1" font-size="5.5" text-anchor="end">1.400</text>
<rect x="286.3" y="1050.3" width="6.3" height="5.4" fill="#0e0cac"/>
<text x="317.2" y="1055" font-size="5.5" text-anchor="middle">&gt;</text>
<text x="338.2" y="1055" font-size="5.5" text-anchor="end">1.400</text>
<clipPath id="k9"><rect x="373.2" y="983.7" width="253.6" height="183.9"/></clipPath>
<g clip-path="url(#k9)">
<rect x="373.2" y="983.7" width="253.6" height="183.9" fill="#0a0872"/>
<path d="M484 977C484.1 978.1 484.1 979.5 484.6 983.7C485.1 988 486.4 994.9 487 1002.5C487.6 1010.1 487.8 1020.2 488 1029.1C488.2 1038 488.1 1047.5 488 1055.7C487.9 1063.9 487.7 1071 487.3 1078C486.9 1085 486.4 1089.8 485.6 1097.5C484.8 1105.2 483.5 1115.6 482.5 1124.1C481.5 1132.6 480.3 1141.3 479.4 1148.6C478.5 1155.8 477.5 1163.4 477 1167.6C476.5 1171.8 476.3 1172.9 476.2 1174L368.2 1172.6L368.2 978.7Z" fill="#1014e4"/>
<path class="c" d="M484 977C484.1 978.1 484.1 979.5 484.6 983.7C485.1 988 486.4 994.9 487 1002.5C487.6 1010.1 487.8 1020.2 488 1029.1C488.2 1038 488.1 1047.5 488 1055.7C487.9 1063.9 487.7 1071 487.3 1078C486.9 1085 486.4 1089.8 485.6 1097.5C484.8 1105.2 483.5 1115.6 482.5 1124.1C481.5 1132.6 480.3 1141.3 479.4 1148.6C478.5 1155.8 477.5 1163.4 477 1167.6C476.5 1171.8 476.3 1172.9 476.2 1174"/>
<path d="M599 978C598 979 595.5 981.3 593.1 983.7C590.8 986.1 587.3 988.8 584.9 992.3C582.5 995.8 580.3 1000.2 578.8 1004.6C577.3 1009 576.4 1013.8 575.7 1018.9C575 1024 574.8 1029.4 574.7 1035.2C574.6 1041 574.9 1048.1 575.3 1053.6C575.6 1059 576.3 1063.5 576.8 1067.9C577.3 1072.3 577.8 1076.4 578.5 1080C579.2 1083.6 579.4 1084.7 580.8 1089.3C582.2 1093.9 584.6 1101.6 587 1107.7C589.4 1113.8 592 1120 595.1 1126.1C598.2 1132.2 601.8 1139 605.4 1144.5C609 1150 613.2 1155 616.6 1158.8C620 1162.5 623.2 1164.8 625.8 1167C628.4 1169.2 631 1171.2 632 1172L631.8 978.7Z" fill="#1014e4"/>
<path class="c" d="M599 978C598 979 595.5 981.3 593.1 983.7C590.8 986.1 587.3 988.8 584.9 992.3C582.5 995.8 580.3 1000.2 578.8 1004.6C577.3 1009 576.4 1013.8 575.7 1018.9C575 1024 574.8 1029.4 574.7 1035.2C574.6 1041 574.9 1048.1 575.3 1053.6C575.6 1059 576.3 1063.5 576.8 1067.9C577.3 1072.3 577.8 1076.4 578.5 1080C579.2 1083.6 579.4 1084.7 580.8 1089.3C582.2 1093.9 584.6 1101.6 587 1107.7C589.4 1113.8 592 1120 595.1 1126.1C598.2 1132.2 601.8 1139 605.4 1144.5C609 1150 613.2 1155 616.6 1158.8C620 1162.5 623.2 1164.8 625.8 1167C628.4 1169.2 631 1171.2 632 1172"/>
<path d="M628 1029.5C627.8 1030.5 627.4 1031.9 626.8 1035.2C626.2 1038.5 624.9 1044.4 624.2 1049.5C623.6 1054.6 623 1061.2 622.9 1065.9C622.8 1070.7 623.1 1074.8 623.3 1078C623.5 1081.2 623.8 1082.1 624.2 1085C624.6 1087.9 625.4 1092.7 625.8 1095.5C626.2 1098.3 626.4 1099.5 626.8 1101.6C627.2 1103.7 627.8 1106.9 628 1108Z" fill="#7da7d9"/>
<path class="c" d="M628 1029.5C627.8 1030.5 627.4 1031.9 626.8 1035.2C626.2 1038.5 624.9 1044.4 624.2 1049.5C623.6 1054.6 623 1061.2 622.9 1065.9C622.8 1070.7 623.1 1074.8 623.3 1078C623.5 1081.2 623.8 1082.1 624.2 1085C624.6 1087.9 625.4 1092.7 625.8 1095.5C626.2 1098.3 626.4 1099.5 626.8 1101.6C627.2 1103.7 627.8 1106.9 628 1108"/>
<path d="M403 977C404 978.1 406 980.5 408.9 983.7C411.8 986.9 416.6 991.2 420.2 996.4C423.8 1001.6 427.7 1008.3 430.4 1014.8C433.1 1021.3 434.9 1028.4 436.5 1035.2C438.1 1042 439.2 1048.6 440.2 1055.7C441.2 1062.8 441.9 1071.7 442.3 1078C442.7 1084.3 442.8 1086.7 442.7 1093.4C442.6 1100.1 442.2 1109.8 441.6 1118C441 1126.2 440 1134.2 439 1142.5C438 1150.8 436.2 1162.3 435.5 1167.6C434.8 1172.8 434.7 1172.9 434.5 1174L368.2 1172.6L368.2 978.7Z" fill="#7da7d9"/>
<path class="c" d="M403 977C404 978.1 406 980.5 408.9 983.7C411.8 986.9 416.6 991.2 420.2 996.4C423.8 1001.6 427.7 1008.3 430.4 1014.8C433.1 1021.3 434.9 1028.4 436.5 1035.2C438.1 1042 439.2 1048.6 440.2 1055.7C441.2 1062.8 441.9 1071.7 442.3 1078C442.7 1084.3 442.8 1086.7 442.7 1093.4C442.6 1100.1 442.2 1109.8 441.6 1118C441 1126.2 440 1134.2 439 1142.5C438 1150.8 436.2 1162.3 435.5 1167.6C434.8 1172.8 434.7 1172.9 434.5 1174"/>
<path d="M367 987C368 987.7 370.8 989.6 373.2 991.3C375.6 993 378.2 994.5 381.3 997.4C384.4 1000.3 388.4 1004.3 391.6 1008.7C394.9 1013.1 398.2 1018.5 400.8 1024C403.4 1029.5 405.2 1035.4 406.9 1041.4C408.6 1047.4 410 1053.7 411 1059.8C412 1065.9 412.4 1072.4 413 1078C413.6 1083.6 414.3 1087.4 414.5 1093.4C414.7 1099.4 414.4 1107.1 414 1113.9C413.6 1120.7 412.9 1127.5 412 1134.3C411.1 1141.1 409.5 1149.2 408.3 1154.8C407.1 1160.3 405.8 1164.4 404.9 1167.6C404 1170.8 403.3 1172.9 403 1174L368.2 1172.6Z" fill="#52b05a"/>
<path class="c" d="M367 987C368 987.7 370.8 989.6 373.2 991.3C375.6 993 378.2 994.5 381.3 997.4C384.4 1000.3 388.4 1004.3 391.6 1008.7C394.9 1013.1 398.2 1018.5 400.8 1024C403.4 1029.5 405.2 1035.4 406.9 1041.4C408.6 1047.4 410 1053.7 411 1059.8C412 1065.9 412.4 1072.4 413 1078C413.6 1083.6 414.3 1087.4 414.5 1093.4C414.7 1099.4 414.4 1107.1 414 1113.9C413.6 1120.7 412.9 1127.5 412 1134.3C411.1 1141.1 409.5 1149.2 408.3 1154.8C407.1 1160.3 405.8 1164.4 404.9 1167.6C404 1170.8 403.3 1172.9 403 1174"/>
<path d="M369 1017C369.7 1018.3 371.5 1021.6 373.2 1025C374.9 1028.4 377.4 1032.9 379.3 1037.3C381.2 1041.7 382.9 1046.5 384.4 1051.6C385.9 1056.7 387.5 1063.2 388.5 1067.9C389.5 1072.6 389.7 1075.8 390.2 1080C390.7 1084.2 391.6 1087.8 391.6 1093.4C391.7 1099.1 391.1 1107.1 390.5 1113.9C389.9 1120.7 389.1 1127.5 387.9 1134.3C386.7 1141.1 384.9 1149.2 383.4 1154.8C381.9 1160.3 380 1164.4 378.9 1167.6C377.8 1170.8 376.9 1172.9 376.5 1174L368.2 1172.6Z" fill="#026802"/>
<path class="c" d="M369 1017C369.7 1018.3 371.5 1021.6 373.2 1025C374.9 1028.4 377.4 1032.9 379.3 1037.3C381.2 1041.7 382.9 1046.5 384.4 1051.6C385.9 1056.7 387.5 1063.2 388.5 1067.9C389.5 1072.6 389.7 1075.8 390.2 1080C390.7 1084.2 391.6 1087.8 391.6 1093.4C391.7 1099.1 391.1 1107.1 390.5 1113.9C389.9 1120.7 389.1 1127.5 387.9 1134.3C386.7 1141.1 384.9 1149.2 383.4 1154.8C381.9 1160.3 380 1164.4 378.9 1167.6C377.8 1170.8 376.9 1172.9 376.5 1174"/>
</g>
<path d="M373.2 1167.6v1.6M436.6 1167.6v1.6M500 1167.6v1.6M563.4 1167.6v1.6M626.8 1167.6v1.6M373.2 983.7h-1.6M373.2 1014.4h-1.6M373.2 1045h-1.6M373.2 1075.7h-1.6M373.2 1106.3h-1.6M373.2 1136.9h-1.6M373.2 1167.6h-1.6" fill="none" stroke="#888" stroke-width=".6"/>
<text x="373.2" y="1176.9" font-size="6.1" text-anchor="middle">4</text>
<text x="436.6" y="1176.9" font-size="6.1" text-anchor="middle">5</text>
<text x="500" y="1176.9" font-size="6.1" text-anchor="middle">6</text>
<text x="563.4" y="1176.9" font-size="6.1" text-anchor="middle">7</text>
<text x="626.8" y="1176.9" font-size="6.1" text-anchor="middle">8</text>
<text x="370.1" y="986.5" font-size="6.1" text-anchor="end">1800</text>
<text x="370.1" y="1017.1" font-size="6.1" text-anchor="end">1600</text>
<text x="370.1" y="1047.8" font-size="6.1" text-anchor="end">1400</text>
<text x="370.1" y="1078.5" font-size="6.1" text-anchor="end">1200</text>
<text x="370.1" y="1109.1" font-size="6.1" text-anchor="end">1000</text>
<text x="370.1" y="1139.7" font-size="6.1" text-anchor="end">800</text>
<text x="370.1" y="1170.4" font-size="6.1" text-anchor="end">600</text>
<text x="500" y="1189.1" font-size="7.8" text-anchor="middle" textLength="82.8" lengthAdjust="spacingAndGlyphs">Drill Bit Diameter (mm)</text>
<text transform="translate(350.1 1075.7) rotate(-90)" font-size="7.8" text-anchor="middle" textLength="75.6" lengthAdjust="spacingAndGlyphs">Spindle Speed (rpm)</text>
<text x="514.2" y="969.6" font-size="8.8" text-anchor="middle" textLength="55.5" lengthAdjust="spacingAndGlyphs" style="white-space:pre">Df  Exit : GT4</text>
<text class="lab" x="341.5" y="980" font-size="19">(j)</text>
<text x="666.4" y="992.9" font-size="5.8" text-anchor="middle" textLength="18.5" lengthAdjust="spacingAndGlyphs">Df Exit</text>
<rect x="638.3" y="995.3" width="6.3" height="5.4" fill="#026802"/>
<text x="666.2" y="1000" font-size="5.5" text-anchor="middle">&lt;</text>
<text x="683.5" y="1000" font-size="5.5" text-anchor="end">1.10</text>
<rect x="638.3" y="1003.2" width="6.3" height="5.4" fill="#52b05a"/>
<text x="666.2" y="1007.9" font-size="5.5" text-anchor="middle">–</text>
<text x="660.9" y="1007.9" font-size="5.5" text-anchor="end">1.10</text>
<text x="683.5" y="1007.9" font-size="5.5" text-anchor="end">1.15</text>
<rect x="638.3" y="1011.2" width="6.3" height="5.4" fill="#7da7d9"/>
<text x="666.2" y="1015.9" font-size="5.5" text-anchor="middle">–</text>
<text x="660.9" y="1015.9" font-size="5.5" text-anchor="end">1.15</text>
<text x="683.5" y="1015.9" font-size="5.5" text-anchor="end">1.20</text>
<rect x="638.3" y="1019.1" width="6.3" height="5.4" fill="#1014e4"/>
<text x="666.2" y="1023.8" font-size="5.5" text-anchor="middle">–</text>
<text x="660.9" y="1023.8" font-size="5.5" text-anchor="end">1.20</text>
<text x="683.5" y="1023.8" font-size="5.5" text-anchor="end">1.25</text>
<rect x="638.3" y="1027.1" width="6.3" height="5.4" fill="#0a0872"/>
<text x="666.2" y="1031.8" font-size="5.5" text-anchor="middle">&gt;</text>
<text x="683.5" y="1031.8" font-size="5.5" text-anchor="end">1.25</text>
</svg></body></html>
